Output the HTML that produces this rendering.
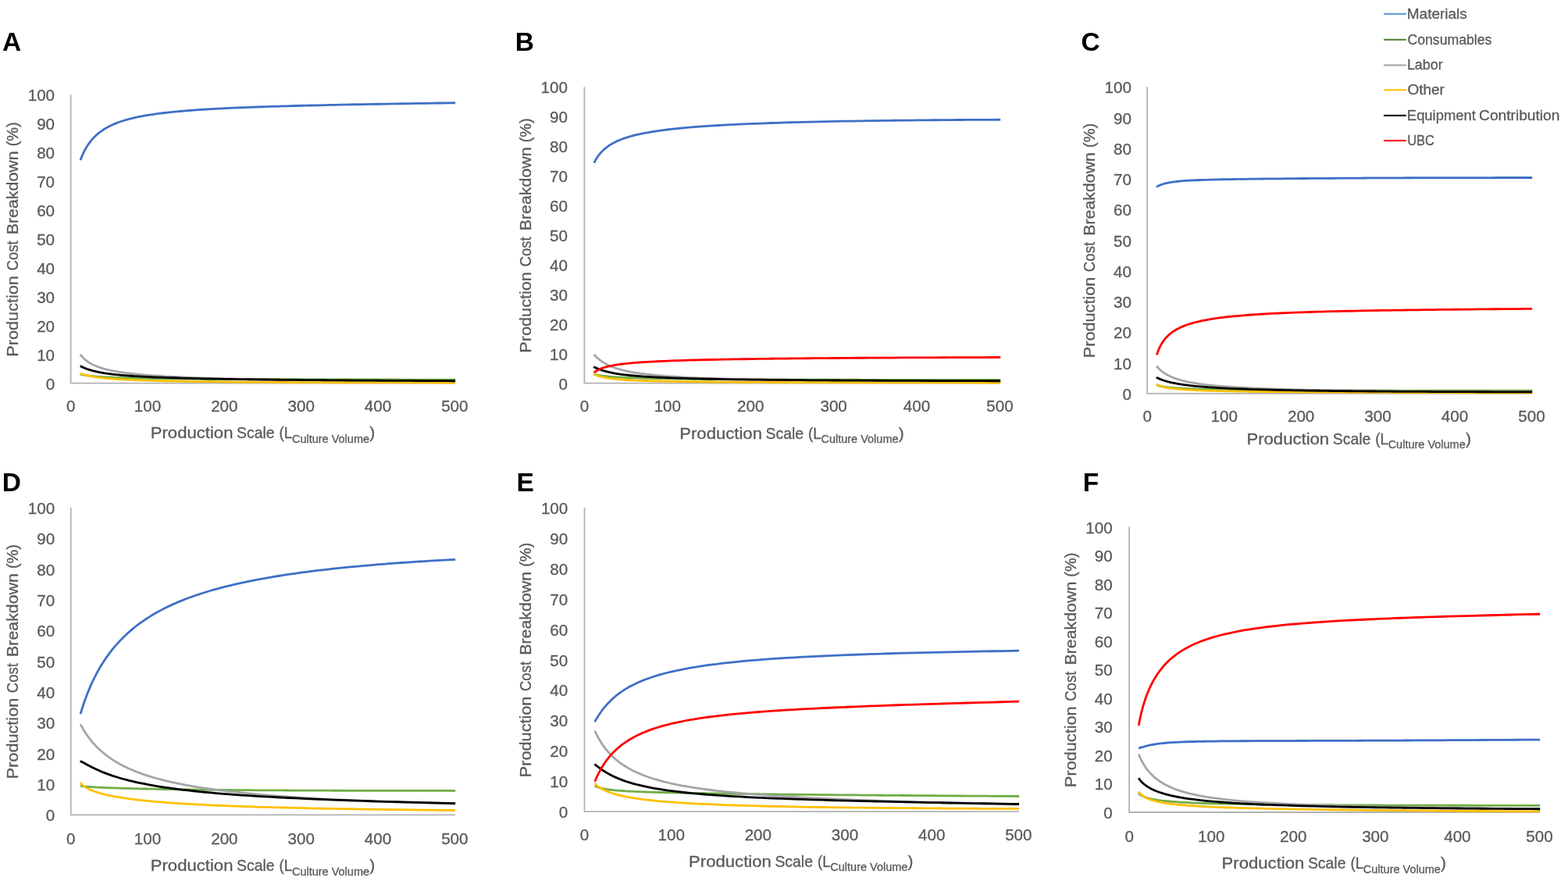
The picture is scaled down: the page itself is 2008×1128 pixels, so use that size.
<!DOCTYPE html>
<html lang="en"><head><meta charset="utf-8"><title>Production cost breakdown versus production scale</title>
<style>html,body{margin:0;padding:0;background:#fff}body{width:2008px;height:1128px;overflow:hidden}svg{display:block}text{font-family:"Liberation Sans",Arial,Helvetica,sans-serif}.t,.ax,.sub,.lg{stroke:#595959;stroke-width:.3px;paint-order:stroke}.t{fill:#595959;font-size:20.8px}.ax{fill:#595959;font-size:21px}.sub{fill:#595959;font-size:14.5px}.lg{fill:#595959;font-size:18px}.pl{fill:#000;font-size:33.5px;font-weight:bold}.c{fill:none;stroke-width:2.8;stroke-linejoin:round;stroke-linecap:butt}.a{fill:none;stroke:#b2b2b2;stroke-width:1.8;stroke-linejoin:round;stroke-linecap:butt}</style></head><body>
<svg width="2008" height="1128" viewBox="0 0 2008 1128">
<rect width="2008" height="1128" fill="#fff"/>
<g id="panel-A">
<text class="pl" x="2.88" y="65.2">A</text>
<text class="t" text-anchor="end" x="70.1" y="498.55" textLength="11.47" lengthAdjust="spacingAndGlyphs">0</text>
<text class="t" text-anchor="end" x="70.1" y="461.64" textLength="22.94" lengthAdjust="spacingAndGlyphs">10</text>
<text class="t" text-anchor="end" x="70.1" y="424.73" textLength="22.94" lengthAdjust="spacingAndGlyphs">20</text>
<text class="t" text-anchor="end" x="70.1" y="387.82" textLength="22.94" lengthAdjust="spacingAndGlyphs">30</text>
<text class="t" text-anchor="end" x="70.1" y="350.91" textLength="22.94" lengthAdjust="spacingAndGlyphs">40</text>
<text class="t" text-anchor="end" x="70.1" y="314" textLength="22.94" lengthAdjust="spacingAndGlyphs">50</text>
<text class="t" text-anchor="end" x="70.1" y="277.09" textLength="22.94" lengthAdjust="spacingAndGlyphs">60</text>
<text class="t" text-anchor="end" x="70.1" y="240.18" textLength="22.94" lengthAdjust="spacingAndGlyphs">70</text>
<text class="t" text-anchor="end" x="70.1" y="203.27" textLength="22.94" lengthAdjust="spacingAndGlyphs">80</text>
<text class="t" text-anchor="end" x="70.1" y="166.36" textLength="22.94" lengthAdjust="spacingAndGlyphs">90</text>
<text class="t" text-anchor="end" x="70.1" y="129.45" textLength="34.41" lengthAdjust="spacingAndGlyphs">100</text>
<text class="t" text-anchor="middle" x="90.65" y="526.5" textLength="11.47" lengthAdjust="spacingAndGlyphs">0</text>
<text class="t" text-anchor="middle" x="188.99" y="526.5" textLength="34.41" lengthAdjust="spacingAndGlyphs">100</text>
<text class="t" text-anchor="middle" x="287.33" y="526.5" textLength="34.41" lengthAdjust="spacingAndGlyphs">200</text>
<text class="t" text-anchor="middle" x="385.67" y="526.5" textLength="34.41" lengthAdjust="spacingAndGlyphs">300</text>
<text class="t" text-anchor="middle" x="484.01" y="526.5" textLength="34.41" lengthAdjust="spacingAndGlyphs">400</text>
<text class="t" text-anchor="middle" x="582.35" y="526.5" textLength="34.41" lengthAdjust="spacingAndGlyphs">500</text>
<text class="ax xtitle"><tspan x="192.76" y="561.25" textLength="105.71" lengthAdjust="spacingAndGlyphs">Production</tspan> <tspan x="303.08" y="561.25" textLength="48.56" lengthAdjust="spacingAndGlyphs">Scale</tspan> <tspan x="357.58" y="561.25" textLength="16.72" lengthAdjust="spacingAndGlyphs">(L</tspan><tspan class="sub" x="373.95" y="566.55" textLength="99.09" lengthAdjust="spacingAndGlyphs">Culture Volume</tspan><tspan x="473.18" y="561.25" textLength="6.96" lengthAdjust="spacingAndGlyphs">)</tspan></text>
<text class="ax ytitle" transform="translate(22.5 306.2) rotate(-90)"><tspan x="-150.45" y="0" textLength="103.55" lengthAdjust="spacingAndGlyphs">Production</tspan> <tspan x="-40.35" y="0" textLength="38.26" lengthAdjust="spacingAndGlyphs">Cost</tspan> <tspan x="5.97" y="0" textLength="106.81" lengthAdjust="spacingAndGlyphs">Breakdown</tspan> <tspan x="118.86" y="0" textLength="31.01" lengthAdjust="spacingAndGlyphs">(%)</tspan></text>
<path class="a" d="M90.6 121.2 V490.6 H582.9"/>
<polyline class="c" stroke="#3f6fc6" points="103.00,204.90 103.05,204.78 103.06,204.77 103.06,204.76 103.07,204.74 103.08,204.72 103.08,204.70 103.09,204.68 103.10,204.66 103.11,204.63 103.13,204.60 103.14,204.57 103.16,204.53 103.17,204.49 103.19,204.45 103.21,204.40 103.23,204.34 103.26,204.28 103.29,204.21 103.32,204.14 103.35,204.06 103.39,203.96 103.44,203.85 103.48,203.73 103.53,203.59 103.59,203.44 103.66,203.27 103.73,203.09 103.81,202.89 103.90,202.66 103.99,202.42 104.10,202.15 104.22,201.85 104.35,201.52 104.50,201.16 104.66,200.77 104.84,200.33 105.04,199.86 105.26,199.34 105.51,198.78 105.78,198.16 106.08,197.49 106.42,196.76 106.79,195.97 107.20,195.12 107.65,194.19 108.16,193.20 108.72,192.13 109.34,190.99 110.03,189.77 110.79,188.48 111.63,187.10 112.57,185.65 112.80,185.31 113.61,184.13 114.76,182.53 116.04,180.86 117.45,179.13 119.02,177.34 120.76,175.50 122.60,173.70 122.69,173.61 124.83,171.69 127.19,169.75 129.82,167.79 132.39,166.04 132.73,165.82 135.96,163.86 139.53,161.92 142.19,160.61 143.50,160.00 147.89,158.11 151.99,156.55 152.77,156.27 158.17,154.48 161.79,153.41 164.15,152.75 170.79,151.09 171.59,150.90 178.15,149.49 181.38,148.86 186.30,147.97 191.18,147.16 195.34,146.52 200.98,145.72 205.36,145.15 210.78,144.49 216.47,143.85 220.58,143.43 228.79,142.64 230.37,142.49 240.17,141.67 242.44,141.49 249.97,140.93 257.57,140.42 259.77,140.27 269.57,139.68 274.35,139.41 279.36,139.14 289.16,138.64 292.94,138.46 298.96,138.19 308.76,137.77 313.56,137.58 318.56,137.38 328.35,137.02 336.41,136.74 338.15,136.68 347.95,136.36 357.75,136.06 361.74,135.95 367.54,135.78 377.34,135.51 387.14,135.26 389.82,135.19 396.94,135.02 406.74,134.79 416.53,134.56 420.94,134.47 426.33,134.35 436.13,134.15 445.93,133.95 455.45,133.77 455.73,133.76 465.52,133.58 475.32,133.40 485.12,133.23 493.70,133.09 494.92,133.06 504.72,132.90 514.51,132.74 524.31,132.59 534.11,132.44 536.10,132.41 543.91,132.29 553.71,132.15 563.50,132.01 573.30,131.87 583.10,131.73"/>
<polyline class="c" stroke="#70AD47" points="103.00,479.18 103.05,479.19 103.06,479.19 103.06,479.19 103.07,479.19 103.08,479.19 103.08,479.20 103.09,479.20 103.10,479.20 103.11,479.20 103.13,479.21 103.14,479.21 103.16,479.21 103.17,479.22 103.19,479.22 103.21,479.23 103.23,479.23 103.26,479.24 103.29,479.25 103.32,479.25 103.35,479.26 103.39,479.27 103.44,479.28 103.48,479.29 103.53,479.31 103.59,479.32 103.66,479.33 103.73,479.35 103.81,479.37 103.90,479.39 103.99,479.41 104.10,479.44 104.22,479.46 104.35,479.49 104.50,479.53 104.66,479.56 104.84,479.60 105.04,479.64 105.26,479.69 105.51,479.74 105.78,479.80 106.08,479.86 106.42,479.92 106.79,479.99 107.20,480.07 107.65,480.15 108.16,480.24 108.72,480.33 109.34,480.43 110.03,480.54 110.79,480.65 111.63,480.77 112.57,480.90 112.80,480.93 113.61,481.03 114.76,481.17 116.04,481.32 117.45,481.47 119.02,481.63 120.76,481.79 122.60,481.95 122.69,481.96 124.83,482.13 127.19,482.30 129.82,482.48 132.39,482.64 132.73,482.66 135.96,482.84 139.53,483.02 142.19,483.14 143.50,483.20 147.89,483.38 151.99,483.53 152.77,483.55 158.17,483.73 161.79,483.84 164.15,483.90 170.79,484.07 171.59,484.09 178.15,484.23 181.38,484.30 186.30,484.39 191.18,484.48 195.34,484.54 200.98,484.63 205.36,484.69 210.78,484.76 216.47,484.83 220.58,484.88 228.79,484.97 230.37,484.98 240.17,485.08 242.44,485.10 249.97,485.16 257.57,485.22 259.77,485.23 269.57,485.30 274.35,485.33 279.36,485.36 289.16,485.42 292.94,485.44 298.96,485.47 308.76,485.52 313.56,485.54 318.56,485.56 328.35,485.60 336.41,485.64 338.15,485.64 347.95,485.68 357.75,485.71 361.74,485.72 367.54,485.74 377.34,485.77 387.14,485.80 389.82,485.80 396.94,485.82 406.74,485.84 416.53,485.87 420.94,485.88 426.33,485.89 436.13,485.91 445.93,485.93 455.45,485.94 455.73,485.94 465.52,485.96 475.32,485.98 485.12,485.99 493.70,486.00 494.92,486.00 504.72,486.02 514.51,486.03 524.31,486.04 534.11,486.05 536.10,486.05 543.91,486.06 553.71,486.07 563.50,486.08 573.30,486.09 583.10,486.10"/>
<polyline class="c" stroke="#A5A5A5" points="103.00,454.03 103.05,454.10 103.06,454.11 103.06,454.12 103.07,454.12 103.08,454.13 103.08,454.14 103.09,454.16 103.10,454.17 103.11,454.18 103.13,454.20 103.14,454.22 103.16,454.24 103.17,454.26 103.19,454.29 103.21,454.31 103.23,454.34 103.26,454.38 103.29,454.41 103.32,454.45 103.35,454.50 103.39,454.55 103.44,454.60 103.48,454.66 103.53,454.73 103.59,454.81 103.66,454.89 103.73,454.98 103.81,455.08 103.90,455.18 103.99,455.30 104.10,455.44 104.22,455.58 104.35,455.74 104.50,455.91 104.66,456.11 104.84,456.31 105.04,456.54 105.26,456.79 105.51,457.06 105.78,457.36 106.08,457.67 106.42,458.02 106.79,458.39 107.20,458.80 107.65,459.23 108.16,459.70 108.72,460.19 109.34,460.72 110.03,461.29 110.79,461.88 111.63,462.51 112.57,463.18 112.80,463.33 113.61,463.87 114.76,464.59 116.04,465.35 117.45,466.12 119.02,466.93 120.76,467.75 122.60,468.55 122.69,468.59 124.83,469.44 127.19,470.30 129.82,471.17 132.39,471.94 132.73,472.03 135.96,472.90 139.53,473.76 142.19,474.34 143.50,474.61 147.89,475.45 151.99,476.15 152.77,476.28 158.17,477.08 161.79,477.57 164.15,477.87 170.79,478.63 171.59,478.72 178.15,479.37 181.38,479.67 186.30,480.09 191.18,480.48 195.34,480.78 200.98,481.17 205.36,481.45 210.78,481.78 216.47,482.10 220.58,482.31 228.79,482.72 230.37,482.79 240.17,483.22 242.44,483.31 249.97,483.61 257.57,483.88 259.77,483.96 269.57,484.28 274.35,484.43 279.36,484.58 289.16,484.85 292.94,484.95 298.96,485.11 308.76,485.34 313.56,485.45 318.56,485.56 328.35,485.77 336.41,485.92 338.15,485.96 347.95,486.14 357.75,486.31 361.74,486.37 367.54,486.46 377.34,486.61 387.14,486.75 389.82,486.79 396.94,486.89 406.74,487.01 416.53,487.13 420.94,487.18 426.33,487.24 436.13,487.35 445.93,487.45 455.45,487.54 455.73,487.55 465.52,487.64 475.32,487.72 485.12,487.80 493.70,487.87 494.92,487.88 504.72,487.95 514.51,488.02 524.31,488.09 534.11,488.15 536.10,488.16 543.91,488.21 553.71,488.26 563.50,488.32 573.30,488.37 583.10,488.41"/>
<polyline class="c" stroke="#FFC000" points="103.00,478.17 103.05,478.19 103.06,478.19 103.06,478.19 103.07,478.20 103.08,478.20 103.08,478.20 103.09,478.21 103.10,478.21 103.11,478.21 103.13,478.22 103.14,478.23 103.16,478.23 103.17,478.24 103.19,478.25 103.21,478.25 103.23,478.26 103.26,478.27 103.29,478.28 103.32,478.30 103.35,478.31 103.39,478.33 103.44,478.34 103.48,478.36 103.53,478.38 103.59,478.40 103.66,478.43 103.73,478.46 103.81,478.49 103.90,478.52 103.99,478.56 104.10,478.60 104.22,478.64 104.35,478.69 104.50,478.74 104.66,478.80 104.84,478.86 105.04,478.93 105.26,479.01 105.51,479.09 105.78,479.19 106.08,479.28 106.42,479.39 106.79,479.51 107.20,479.63 107.65,479.77 108.16,479.91 108.72,480.07 109.34,480.23 110.03,480.41 110.79,480.60 111.63,480.80 112.57,481.01 112.80,481.06 113.61,481.24 114.76,481.47 116.04,481.72 117.45,481.97 119.02,482.24 120.76,482.51 122.60,482.78 122.69,482.80 124.83,483.09 127.19,483.39 129.82,483.69 132.39,483.96 132.73,484.00 135.96,484.31 139.53,484.62 142.19,484.84 143.50,484.94 147.89,485.25 151.99,485.51 152.77,485.56 158.17,485.87 161.79,486.06 164.15,486.17 170.79,486.47 171.59,486.51 178.15,486.77 181.38,486.89 186.30,487.05 191.18,487.21 195.34,487.33 200.98,487.49 205.36,487.60 210.78,487.73 216.47,487.86 220.58,487.94 228.79,488.11 230.37,488.13 240.17,488.30 242.44,488.34 249.97,488.46 257.57,488.56 259.77,488.59 269.57,488.72 274.35,488.77 279.36,488.83 289.16,488.93 292.94,488.97 298.96,489.03 308.76,489.11 313.56,489.15 318.56,489.19 328.35,489.26 336.41,489.32 338.15,489.33 347.95,489.39 357.75,489.44 361.74,489.46 367.54,489.49 377.34,489.54 387.14,489.59 389.82,489.60 396.94,489.63 406.74,489.66 416.53,489.70 420.94,489.71 426.33,489.73 436.13,489.76 445.93,489.79 455.45,489.81 455.73,489.81 465.52,489.83 475.32,489.86 485.12,489.88 493.70,489.89 494.92,489.89 504.72,489.91 514.51,489.92 524.31,489.94 534.11,489.95 536.10,489.95 543.91,489.96 553.71,489.97 563.50,489.98 573.30,489.98 583.10,489.99"/>
<polyline class="c" stroke="#000000" points="103.00,468.72 103.05,468.74 103.06,468.75 103.06,468.75 103.07,468.75 103.08,468.76 103.08,468.76 103.09,468.77 103.10,468.77 103.11,468.78 103.13,468.78 103.14,468.79 103.16,468.80 103.17,468.81 103.19,468.82 103.21,468.83 103.23,468.84 103.26,468.86 103.29,468.87 103.32,468.89 103.35,468.91 103.39,468.93 103.44,468.95 103.48,468.97 103.53,469.00 103.59,469.03 103.66,469.07 103.73,469.10 103.81,469.14 103.90,469.19 103.99,469.24 104.10,469.30 104.22,469.36 104.35,469.42 104.50,469.50 104.66,469.58 104.84,469.67 105.04,469.77 105.26,469.87 105.51,469.99 105.78,470.12 106.08,470.26 106.42,470.42 106.79,470.58 107.20,470.77 107.65,470.96 108.16,471.18 108.72,471.41 109.34,471.66 110.03,471.92 110.79,472.21 111.63,472.52 112.57,472.84 112.80,472.92 113.61,473.19 114.76,473.55 116.04,473.93 117.45,474.34 119.02,474.76 120.76,475.19 122.60,475.62 122.69,475.64 124.83,476.10 127.19,476.58 129.82,477.06 132.39,477.50 132.73,477.56 135.96,478.05 139.53,478.55 142.19,478.89 143.50,479.05 147.89,479.55 151.99,479.97 152.77,480.04 158.17,480.53 161.79,480.83 164.15,481.01 170.79,481.48 171.59,481.53 178.15,481.93 181.38,482.12 186.30,482.38 191.18,482.62 195.34,482.81 200.98,483.05 205.36,483.22 210.78,483.43 216.47,483.62 220.58,483.76 228.79,484.01 230.37,484.05 240.17,484.32 242.44,484.38 249.97,484.56 257.57,484.73 259.77,484.78 269.57,484.98 274.35,485.07 279.36,485.16 289.16,485.33 292.94,485.39 298.96,485.49 308.76,485.63 313.56,485.70 318.56,485.77 328.35,485.90 336.41,486.00 338.15,486.02 347.95,486.13 357.75,486.24 361.74,486.28 367.54,486.34 377.34,486.43 387.14,486.52 389.82,486.55 396.94,486.61 406.74,486.69 416.53,486.77 420.94,486.81 426.33,486.85 436.13,486.92 445.93,486.99 455.45,487.06 455.73,487.06 465.52,487.12 475.32,487.19 485.12,487.25 493.70,487.30 494.92,487.30 504.72,487.36 514.51,487.41 524.31,487.47 534.11,487.52 536.10,487.53 543.91,487.57 553.71,487.62 563.50,487.66 573.30,487.71 583.10,487.75"/>
</g>
<g id="panel-B">
<text class="pl" x="659.85" y="65.1">B</text>
<text class="t" text-anchor="end" x="727" y="498.55" textLength="11.47" lengthAdjust="spacingAndGlyphs">0</text>
<text class="t" text-anchor="end" x="727" y="460.64" textLength="22.94" lengthAdjust="spacingAndGlyphs">10</text>
<text class="t" text-anchor="end" x="727" y="422.73" textLength="22.94" lengthAdjust="spacingAndGlyphs">20</text>
<text class="t" text-anchor="end" x="727" y="384.82" textLength="22.94" lengthAdjust="spacingAndGlyphs">30</text>
<text class="t" text-anchor="end" x="727" y="346.91" textLength="22.94" lengthAdjust="spacingAndGlyphs">40</text>
<text class="t" text-anchor="end" x="727" y="309" textLength="22.94" lengthAdjust="spacingAndGlyphs">50</text>
<text class="t" text-anchor="end" x="727" y="271.09" textLength="22.94" lengthAdjust="spacingAndGlyphs">60</text>
<text class="t" text-anchor="end" x="727" y="233.18" textLength="22.94" lengthAdjust="spacingAndGlyphs">70</text>
<text class="t" text-anchor="end" x="727" y="195.27" textLength="22.94" lengthAdjust="spacingAndGlyphs">80</text>
<text class="t" text-anchor="end" x="727" y="157.36" textLength="22.94" lengthAdjust="spacingAndGlyphs">90</text>
<text class="t" text-anchor="end" x="727" y="119.45" textLength="34.41" lengthAdjust="spacingAndGlyphs">100</text>
<text class="t" text-anchor="middle" x="748.45" y="526.5" textLength="11.47" lengthAdjust="spacingAndGlyphs">0</text>
<text class="t" text-anchor="middle" x="854.85" y="526.5" textLength="34.41" lengthAdjust="spacingAndGlyphs">100</text>
<text class="t" text-anchor="middle" x="961.25" y="526.5" textLength="34.41" lengthAdjust="spacingAndGlyphs">200</text>
<text class="t" text-anchor="middle" x="1067.65" y="526.5" textLength="34.41" lengthAdjust="spacingAndGlyphs">300</text>
<text class="t" text-anchor="middle" x="1174.05" y="526.5" textLength="34.41" lengthAdjust="spacingAndGlyphs">400</text>
<text class="t" text-anchor="middle" x="1280.45" y="526.5" textLength="34.41" lengthAdjust="spacingAndGlyphs">500</text>
<text class="ax xtitle"><tspan x="870.26" y="561.6" textLength="105.71" lengthAdjust="spacingAndGlyphs">Production</tspan> <tspan x="980.58" y="561.6" textLength="48.56" lengthAdjust="spacingAndGlyphs">Scale</tspan> <tspan x="1035.08" y="561.6" textLength="16.72" lengthAdjust="spacingAndGlyphs">(L</tspan><tspan class="sub" x="1051.45" y="566.9" textLength="99.09" lengthAdjust="spacingAndGlyphs">Culture Volume</tspan><tspan x="1150.68" y="561.6" textLength="6.96" lengthAdjust="spacingAndGlyphs">)</tspan></text>
<text class="ax ytitle" transform="translate(680 301.2) rotate(-90)"><tspan x="-150.45" y="0" textLength="103.55" lengthAdjust="spacingAndGlyphs">Production</tspan> <tspan x="-40.35" y="0" textLength="38.26" lengthAdjust="spacingAndGlyphs">Cost</tspan> <tspan x="5.97" y="0" textLength="106.81" lengthAdjust="spacingAndGlyphs">Breakdown</tspan> <tspan x="118.86" y="0" textLength="31.01" lengthAdjust="spacingAndGlyphs">(%)</tspan></text>
<path class="a" d="M748.4 111.2 V490.6 H1281"/>
<polyline class="c" stroke="#3f6fc6" points="760.70,208.26 760.75,208.18 760.76,208.17 760.76,208.16 760.77,208.15 760.78,208.14 760.78,208.13 760.79,208.12 760.80,208.10 760.81,208.08 760.83,208.06 760.84,208.04 760.86,208.02 760.87,207.99 760.89,207.97 760.91,207.93 760.94,207.90 760.96,207.86 760.99,207.81 761.02,207.77 761.06,207.71 761.10,207.65 761.14,207.59 761.19,207.51 761.25,207.43 761.31,207.34 761.37,207.24 761.45,207.10 761.53,206.95 761.62,206.78 761.72,206.59 761.83,206.38 761.95,206.16 762.09,205.90 762.24,205.63 762.41,205.33 762.60,205.00 762.81,204.64 763.04,204.25 763.30,203.82 763.58,203.35 763.90,202.85 764.25,202.30 764.63,201.71 765.07,201.07 765.54,200.38 766.07,199.64 766.66,198.85 767.32,198.00 768.04,197.11 768.84,196.15 769.74,195.15 770.73,194.09 771.32,193.48 771.82,192.98 773.04,191.83 774.39,190.62 775.89,189.38 777.56,188.09 779.40,186.78 781.45,185.43 781.94,185.12 783.73,184.06 786.25,182.67 789.05,181.27 792.15,179.86 792.57,179.68 795.60,178.45 799.42,177.05 803.19,175.81 803.66,175.66 808.37,174.28 813.59,172.92 813.81,172.87 819.38,171.59 824.43,170.55 825.81,170.29 832.94,169.01 835.06,168.66 840.85,167.77 845.68,167.08 849.63,166.56 856.30,165.74 859.37,165.39 866.92,164.58 870.18,164.25 877.55,163.57 882.17,163.16 888.17,162.67 895.47,162.11 898.79,161.87 909.41,161.15 910.23,161.10 920.04,160.51 926.61,160.14 930.66,159.92 941.28,159.38 944.79,159.22 951.90,158.89 962.53,158.44 964.95,158.34 973.15,158.03 983.77,157.64 987.32,157.52 994.39,157.29 1005.02,156.96 1012.14,156.75 1015.64,156.65 1026.26,156.37 1036.88,156.11 1039.69,156.04 1047.51,155.86 1058.13,155.63 1068.75,155.42 1070.24,155.39 1079.37,155.22 1090.00,155.03 1100.62,154.86 1104.15,154.80 1111.24,154.70 1121.86,154.55 1132.49,154.41 1141.77,154.29 1143.11,154.27 1153.73,154.15 1164.35,154.04 1174.98,153.93 1183.51,153.86 1185.60,153.84 1196.22,153.75 1206.84,153.66 1217.47,153.59 1228.09,153.52 1229.82,153.51 1238.71,153.45 1249.33,153.40 1259.96,153.34 1270.58,153.29 1281.20,153.25"/>
<polyline class="c" stroke="#70AD47" points="760.70,479.12 760.75,479.13 760.76,479.13 760.76,479.13 760.77,479.13 760.78,479.14 760.78,479.14 760.79,479.14 760.80,479.14 760.81,479.15 760.83,479.15 760.84,479.15 760.86,479.16 760.87,479.16 760.89,479.17 760.91,479.18 760.94,479.18 760.96,479.19 760.99,479.20 761.02,479.21 761.06,479.22 761.10,479.23 761.14,479.24 761.19,479.25 761.25,479.27 761.31,479.28 761.37,479.30 761.45,479.32 761.53,479.34 761.62,479.36 761.72,479.39 761.83,479.42 761.95,479.45 762.09,479.49 762.24,479.52 762.41,479.57 762.60,479.61 762.81,479.66 763.04,479.71 763.30,479.77 763.58,479.84 763.90,479.91 764.25,479.98 764.63,480.06 765.07,480.15 765.54,480.24 766.07,480.34 766.66,480.45 767.32,480.57 768.04,480.69 768.84,480.81 769.74,480.95 770.73,481.09 771.32,481.17 771.82,481.24 773.04,481.40 774.39,481.56 775.89,481.72 777.56,481.90 779.40,482.07 781.45,482.25 781.94,482.30 783.73,482.44 786.25,482.62 789.05,482.81 792.15,483.00 792.57,483.03 795.60,483.19 799.42,483.38 803.19,483.55 803.66,483.57 808.37,483.76 813.59,483.94 813.81,483.95 819.38,484.12 824.43,484.26 825.81,484.30 832.94,484.47 835.06,484.52 840.85,484.63 845.68,484.73 849.63,484.80 856.30,484.90 859.37,484.95 866.92,485.06 870.18,485.10 877.55,485.19 882.17,485.24 888.17,485.31 895.47,485.38 898.79,485.41 909.41,485.50 910.23,485.51 920.04,485.58 926.61,485.63 930.66,485.66 941.28,485.72 944.79,485.74 951.90,485.78 962.53,485.84 964.95,485.85 973.15,485.89 983.77,485.94 987.32,485.95 994.39,485.98 1005.02,486.02 1012.14,486.04 1015.64,486.06 1026.26,486.09 1036.88,486.12 1039.69,486.13 1047.51,486.15 1058.13,486.18 1068.75,486.20 1070.24,486.21 1079.37,486.23 1090.00,486.25 1100.62,486.27 1104.15,486.28 1111.24,486.29 1121.86,486.31 1132.49,486.33 1141.77,486.35 1143.11,486.35 1153.73,486.36 1164.35,486.38 1174.98,486.39 1183.51,486.40 1185.60,486.41 1196.22,486.42 1206.84,486.43 1217.47,486.44 1228.09,486.45 1229.82,486.46 1238.71,486.46 1249.33,486.47 1259.96,486.48 1270.58,486.49 1281.20,486.50"/>
<polyline class="c" stroke="#A5A5A5" points="760.70,453.86 760.75,453.92 760.76,453.93 760.76,453.93 760.77,453.94 760.78,453.95 760.78,453.96 760.79,453.97 760.80,453.98 760.81,453.99 760.83,454.01 760.84,454.02 760.86,454.04 760.87,454.06 760.89,454.08 760.91,454.10 760.94,454.13 760.96,454.16 760.99,454.19 761.02,454.23 761.06,454.27 761.10,454.31 761.14,454.36 761.19,454.41 761.25,454.47 761.31,454.54 761.37,454.61 761.45,454.69 761.53,454.78 761.62,454.88 761.72,454.99 761.83,455.11 761.95,455.24 762.09,455.39 762.24,455.55 762.41,455.73 762.60,455.92 762.81,456.14 763.04,456.37 763.30,456.63 763.58,456.91 763.90,457.22 764.25,457.55 764.63,457.92 765.07,458.31 765.54,458.74 766.07,459.21 766.66,459.71 767.32,460.25 768.04,460.83 768.84,461.45 769.74,462.10 770.73,462.80 771.32,463.20 771.82,463.53 773.04,464.31 774.39,465.12 775.89,465.96 777.56,466.83 779.40,467.73 781.45,468.66 781.94,468.87 783.73,469.60 786.25,470.55 789.05,471.52 792.15,472.49 792.57,472.61 795.60,473.45 799.42,474.41 803.19,475.26 803.66,475.36 808.37,476.29 813.59,477.20 813.81,477.23 819.38,478.08 824.43,478.76 825.81,478.93 832.94,479.75 835.06,479.98 840.85,480.54 845.68,480.96 849.63,481.29 856.30,481.79 859.37,482.00 866.92,482.48 870.18,482.67 877.55,483.07 882.17,483.30 888.17,483.58 895.47,483.89 898.79,484.03 909.41,484.42 910.23,484.45 920.04,484.77 926.61,484.96 930.66,485.08 941.28,485.35 944.79,485.44 951.90,485.60 962.53,485.83 964.95,485.88 973.15,486.04 983.77,486.23 987.32,486.29 994.39,486.40 1005.02,486.56 1012.14,486.66 1015.64,486.71 1026.26,486.85 1036.88,486.98 1039.69,487.01 1047.51,487.09 1058.13,487.21 1068.75,487.31 1070.24,487.32 1079.37,487.41 1090.00,487.50 1100.62,487.58 1104.15,487.61 1111.24,487.66 1121.86,487.74 1132.49,487.81 1141.77,487.87 1143.11,487.88 1153.73,487.95 1164.35,488.01 1174.98,488.06 1183.51,488.11 1185.60,488.12 1196.22,488.17 1206.84,488.22 1217.47,488.27 1228.09,488.32 1229.82,488.33 1238.71,488.36 1249.33,488.40 1259.96,488.44 1270.58,488.48 1281.20,488.52"/>
<polyline class="c" stroke="#FFC000" points="760.70,479.06 760.75,479.08 760.76,479.09 760.76,479.09 760.77,479.09 760.78,479.10 760.78,479.10 760.79,479.11 760.80,479.11 760.81,479.12 760.83,479.13 760.84,479.13 760.86,479.14 760.87,479.15 760.89,479.16 760.91,479.17 760.94,479.19 760.96,479.20 760.99,479.22 761.02,479.23 761.06,479.25 761.10,479.27 761.14,479.30 761.19,479.32 761.25,479.35 761.31,479.38 761.37,479.42 761.45,479.45 761.53,479.49 761.62,479.54 761.72,479.59 761.83,479.65 761.95,479.71 762.09,479.77 762.24,479.84 762.41,479.92 762.60,480.01 762.81,480.10 763.04,480.20 763.30,480.31 763.58,480.43 763.90,480.56 764.25,480.70 764.63,480.85 765.07,481.01 765.54,481.18 766.07,481.36 766.66,481.55 767.32,481.75 768.04,481.96 768.84,482.19 769.74,482.42 770.73,482.66 771.32,482.80 771.82,482.91 773.04,483.17 774.39,483.44 775.89,483.71 777.56,483.99 779.40,484.27 781.45,484.56 781.94,484.62 783.73,484.84 786.25,485.13 789.05,485.41 792.15,485.70 792.57,485.73 795.60,485.97 799.42,486.25 803.19,486.49 803.66,486.51 808.37,486.77 813.59,487.03 813.81,487.04 819.38,487.27 824.43,487.45 825.81,487.50 832.94,487.73 835.06,487.79 840.85,487.94 845.68,488.05 849.63,488.14 856.30,488.27 859.37,488.33 866.92,488.46 870.18,488.51 877.55,488.62 882.17,488.68 888.17,488.75 895.47,488.84 898.79,488.87 909.41,488.98 910.23,488.98 920.04,489.07 926.61,489.12 930.66,489.15 941.28,489.22 944.79,489.24 951.90,489.29 962.53,489.35 964.95,489.36 973.15,489.40 983.77,489.45 987.32,489.47 994.39,489.49 1005.02,489.54 1012.14,489.56 1015.64,489.57 1026.26,489.61 1036.88,489.64 1039.69,489.65 1047.51,489.67 1058.13,489.70 1068.75,489.72 1070.24,489.73 1079.37,489.75 1090.00,489.77 1100.62,489.79 1104.15,489.80 1111.24,489.81 1121.86,489.83 1132.49,489.84 1141.77,489.86 1143.11,489.86 1153.73,489.88 1164.35,489.89 1174.98,489.90 1183.51,489.91 1185.60,489.92 1196.22,489.93 1206.84,489.94 1217.47,489.95 1228.09,489.96 1229.82,489.96 1238.71,489.97 1249.33,489.98 1259.96,489.99 1270.58,489.99 1281.20,490.00"/>
<polyline class="c" stroke="#000000" points="760.70,469.80 760.75,469.83 760.76,469.83 760.76,469.84 760.77,469.84 760.78,469.84 760.78,469.85 760.79,469.85 760.80,469.86 760.81,469.87 760.83,469.87 760.84,469.88 760.86,469.89 760.87,469.90 760.89,469.91 760.91,469.92 760.94,469.93 760.96,469.94 760.99,469.96 761.02,469.98 761.06,470.00 761.10,470.02 761.14,470.04 761.19,470.07 761.25,470.09 761.31,470.12 761.37,470.16 761.45,470.20 761.53,470.24 761.62,470.29 761.72,470.34 761.83,470.39 761.95,470.46 762.09,470.53 762.24,470.60 762.41,470.69 762.60,470.78 762.81,470.88 763.04,470.99 763.30,471.11 763.58,471.24 763.90,471.39 764.25,471.55 764.63,471.72 765.07,471.91 765.54,472.11 766.07,472.33 766.66,472.57 767.32,472.82 768.04,473.10 768.84,473.39 769.74,473.70 770.73,474.04 771.32,474.23 771.82,474.39 773.04,474.76 774.39,475.15 775.89,475.56 777.56,475.98 779.40,476.42 781.45,476.87 781.94,476.98 783.73,477.34 786.25,477.82 789.05,478.30 792.15,478.79 792.57,478.85 795.60,479.28 799.42,479.77 803.19,480.21 803.66,480.26 808.37,480.75 813.59,481.22 813.81,481.24 819.38,481.69 824.43,482.06 825.81,482.15 832.94,482.60 835.06,482.72 840.85,483.03 845.68,483.27 849.63,483.45 856.30,483.73 859.37,483.85 866.92,484.12 870.18,484.23 877.55,484.46 882.17,484.59 888.17,484.75 895.47,484.93 898.79,485.01 909.41,485.24 910.23,485.26 920.04,485.45 926.61,485.56 930.66,485.63 941.28,485.80 944.79,485.85 951.90,485.95 962.53,486.09 964.95,486.12 973.15,486.21 983.77,486.33 987.32,486.37 994.39,486.44 1005.02,486.53 1012.14,486.60 1015.64,486.63 1026.26,486.71 1036.88,486.79 1039.69,486.81 1047.51,486.86 1058.13,486.93 1068.75,487.00 1070.24,487.00 1079.37,487.06 1090.00,487.11 1100.62,487.17 1104.15,487.18 1111.24,487.22 1121.86,487.26 1132.49,487.31 1141.77,487.35 1143.11,487.35 1153.73,487.39 1164.35,487.43 1174.98,487.47 1183.51,487.50 1185.60,487.50 1196.22,487.54 1206.84,487.57 1217.47,487.60 1228.09,487.63 1229.82,487.63 1238.71,487.65 1249.33,487.68 1259.96,487.71 1270.58,487.73 1281.20,487.75"/>
<polyline class="c" stroke="#FF0000" points="760.70,477.17 760.75,477.13 760.76,477.12 760.76,477.12 760.77,477.11 760.78,477.10 760.78,477.10 760.79,477.09 760.80,477.08 760.81,477.07 760.83,477.06 760.84,477.05 760.86,477.03 760.87,477.02 760.89,477.00 760.91,476.98 760.94,476.96 760.96,476.94 760.99,476.92 761.02,476.89 761.06,476.86 761.10,476.83 761.14,476.79 761.19,476.75 761.25,476.70 761.31,476.65 761.37,476.60 761.45,476.54 761.53,476.47 761.62,476.40 761.72,476.32 761.83,476.23 761.95,476.14 762.09,476.03 762.24,475.92 762.41,475.80 762.60,475.66 762.81,475.52 763.04,475.36 763.30,475.18 763.58,475.00 763.90,474.80 764.25,474.58 764.63,474.35 765.07,474.11 765.54,473.84 766.07,473.56 766.66,473.27 767.32,472.96 768.04,472.63 768.84,472.28 769.74,471.92 770.73,471.55 771.32,471.33 771.82,471.16 773.04,470.75 774.39,470.34 775.89,469.91 777.56,469.47 779.40,469.03 781.45,468.58 781.94,468.47 783.73,468.12 786.25,467.66 789.05,467.19 792.15,466.73 792.57,466.67 795.60,466.26 799.42,465.80 803.19,465.39 803.66,465.34 808.37,464.89 813.59,464.44 813.81,464.42 819.38,464.00 824.43,463.65 825.81,463.57 832.94,463.14 835.06,463.03 840.85,462.73 845.68,462.50 849.63,462.32 856.30,462.05 859.37,461.93 866.92,461.66 870.18,461.55 877.55,461.32 882.17,461.18 888.17,461.02 895.47,460.83 898.79,460.75 909.41,460.50 910.23,460.48 920.04,460.28 926.61,460.15 930.66,460.08 941.28,459.90 944.79,459.84 951.90,459.73 962.53,459.57 964.95,459.54 973.15,459.43 983.77,459.29 987.32,459.25 994.39,459.17 1005.02,459.05 1012.14,458.98 1015.64,458.94 1026.26,458.84 1036.88,458.74 1039.69,458.72 1047.51,458.65 1058.13,458.57 1068.75,458.49 1070.24,458.48 1079.37,458.41 1090.00,458.34 1100.62,458.27 1104.15,458.25 1111.24,458.20 1121.86,458.14 1132.49,458.08 1141.77,458.03 1143.11,458.03 1153.73,457.97 1164.35,457.92 1174.98,457.87 1183.51,457.84 1185.60,457.83 1196.22,457.78 1206.84,457.74 1217.47,457.70 1228.09,457.66 1229.82,457.66 1238.71,457.63 1249.33,457.59 1259.96,457.56 1270.58,457.52 1281.20,457.49"/>
</g>
<g id="panel-C">
<text class="pl" x="1384.53" y="65.1">C</text>
<text class="t" text-anchor="end" x="1449" y="511.75" textLength="11.47" lengthAdjust="spacingAndGlyphs">0</text>
<text class="t" text-anchor="end" x="1449" y="472.52" textLength="22.94" lengthAdjust="spacingAndGlyphs">10</text>
<text class="t" text-anchor="end" x="1449" y="433.29" textLength="22.94" lengthAdjust="spacingAndGlyphs">20</text>
<text class="t" text-anchor="end" x="1449" y="394.06" textLength="22.94" lengthAdjust="spacingAndGlyphs">30</text>
<text class="t" text-anchor="end" x="1449" y="354.83" textLength="22.94" lengthAdjust="spacingAndGlyphs">40</text>
<text class="t" text-anchor="end" x="1449" y="315.6" textLength="22.94" lengthAdjust="spacingAndGlyphs">50</text>
<text class="t" text-anchor="end" x="1449" y="276.37" textLength="22.94" lengthAdjust="spacingAndGlyphs">60</text>
<text class="t" text-anchor="end" x="1449" y="237.14" textLength="22.94" lengthAdjust="spacingAndGlyphs">70</text>
<text class="t" text-anchor="end" x="1449" y="197.91" textLength="22.94" lengthAdjust="spacingAndGlyphs">80</text>
<text class="t" text-anchor="end" x="1449" y="158.68" textLength="22.94" lengthAdjust="spacingAndGlyphs">90</text>
<text class="t" text-anchor="end" x="1449" y="119.45" textLength="34.41" lengthAdjust="spacingAndGlyphs">100</text>
<text class="t" text-anchor="middle" x="1469.25" y="539.75" textLength="11.47" lengthAdjust="spacingAndGlyphs">0</text>
<text class="t" text-anchor="middle" x="1567.69" y="539.75" textLength="34.41" lengthAdjust="spacingAndGlyphs">100</text>
<text class="t" text-anchor="middle" x="1666.13" y="539.75" textLength="34.41" lengthAdjust="spacingAndGlyphs">200</text>
<text class="t" text-anchor="middle" x="1764.57" y="539.75" textLength="34.41" lengthAdjust="spacingAndGlyphs">300</text>
<text class="t" text-anchor="middle" x="1863.01" y="539.75" textLength="34.41" lengthAdjust="spacingAndGlyphs">400</text>
<text class="t" text-anchor="middle" x="1961.45" y="539.75" textLength="34.41" lengthAdjust="spacingAndGlyphs">500</text>
<text class="ax xtitle"><tspan x="1596.46" y="568.75" textLength="105.71" lengthAdjust="spacingAndGlyphs">Production</tspan> <tspan x="1706.78" y="568.75" textLength="48.56" lengthAdjust="spacingAndGlyphs">Scale</tspan> <tspan x="1761.28" y="568.75" textLength="16.72" lengthAdjust="spacingAndGlyphs">(L</tspan><tspan class="sub" x="1777.65" y="574.05" textLength="99.09" lengthAdjust="spacingAndGlyphs">Culture Volume</tspan><tspan x="1876.88" y="568.75" textLength="6.96" lengthAdjust="spacingAndGlyphs">)</tspan></text>
<text class="ax ytitle" transform="translate(1402 307.8) rotate(-90)"><tspan x="-150.45" y="0" textLength="103.55" lengthAdjust="spacingAndGlyphs">Production</tspan> <tspan x="-40.35" y="0" textLength="38.26" lengthAdjust="spacingAndGlyphs">Cost</tspan> <tspan x="5.97" y="0" textLength="106.81" lengthAdjust="spacingAndGlyphs">Breakdown</tspan> <tspan x="118.86" y="0" textLength="31.01" lengthAdjust="spacingAndGlyphs">(%)</tspan></text>
<path class="a" d="M1469.2 111.2 V503.8 H1962"/>
<polyline class="c" stroke="#3f6fc6" points="1481.40,238.59 1481.45,238.61 1481.46,238.62 1481.46,238.62 1481.47,238.62 1481.48,238.62 1481.48,238.63 1481.49,238.63 1481.50,238.64 1481.51,238.64 1481.53,238.65 1481.54,238.65 1481.56,238.66 1481.57,238.67 1481.59,238.68 1481.61,238.68 1481.63,238.69 1481.66,238.70 1481.69,238.72 1481.72,238.73 1481.75,238.74 1481.79,238.72 1481.84,238.70 1481.88,238.68 1481.93,238.65 1481.99,238.63 1482.06,238.60 1482.13,238.56 1482.21,238.52 1482.30,238.48 1482.39,238.44 1482.50,238.39 1482.62,238.33 1482.75,238.27 1482.90,238.20 1483.06,238.13 1483.24,238.05 1483.44,237.96 1483.66,237.86 1483.91,237.75 1484.18,237.63 1484.48,237.50 1484.82,237.36 1485.19,237.21 1485.60,237.05 1486.06,236.87 1486.56,236.68 1487.12,236.47 1487.74,236.25 1488.43,236.02 1489.20,235.77 1490.04,235.51 1490.98,235.24 1491.21,235.18 1492.02,234.96 1493.17,234.67 1494.45,234.37 1495.87,234.07 1497.44,233.77 1499.18,233.46 1501.02,233.16 1501.11,233.15 1503.25,232.85 1505.62,232.55 1508.25,232.26 1510.84,232.00 1511.16,231.97 1514.39,231.70 1517.97,231.44 1520.65,231.27 1521.94,231.19 1526.34,230.95 1530.46,230.76 1531.22,230.73 1536.63,230.52 1540.27,230.39 1542.62,230.32 1549.27,230.12 1550.09,230.10 1556.63,229.94 1559.90,229.87 1564.80,229.77 1569.71,229.67 1573.85,229.60 1579.52,229.51 1583.89,229.44 1589.33,229.36 1595.01,229.28 1599.15,229.22 1607.34,229.12 1608.96,229.10 1618.77,228.98 1621.01,228.96 1628.58,228.88 1636.17,228.80 1638.40,228.78 1648.21,228.69 1652.97,228.64 1658.02,228.60 1667.83,228.52 1671.59,228.49 1677.64,228.44 1687.46,228.36 1692.23,228.33 1697.27,228.29 1707.08,228.23 1715.12,228.18 1716.89,228.17 1726.71,228.11 1736.52,228.05 1740.49,228.03 1746.33,228.00 1756.14,227.95 1765.96,227.90 1768.61,227.89 1775.77,227.86 1785.58,227.82 1795.39,227.78 1799.79,227.77 1805.20,227.75 1815.02,227.72 1824.83,227.69 1834.34,227.66 1834.64,227.66 1844.45,227.64 1854.27,227.61 1864.08,227.59 1872.65,227.58 1873.89,227.57 1883.70,227.56 1893.51,227.55 1903.33,227.53 1913.14,227.53 1915.12,227.52 1922.95,227.52 1932.76,227.51 1942.58,227.51 1952.39,227.51 1962.20,227.51"/>
<polyline class="c" stroke="#70AD47" points="1481.40,493.10 1481.45,493.12 1481.46,493.12 1481.46,493.12 1481.47,493.12 1481.48,493.13 1481.48,493.13 1481.49,493.13 1481.50,493.14 1481.51,493.14 1481.53,493.14 1481.54,493.15 1481.56,493.15 1481.57,493.16 1481.59,493.17 1481.61,493.17 1481.63,493.18 1481.66,493.19 1481.69,493.20 1481.72,493.21 1481.75,493.22 1481.79,493.23 1481.84,493.25 1481.88,493.26 1481.93,493.28 1481.99,493.30 1482.06,493.32 1482.13,493.34 1482.21,493.37 1482.30,493.39 1482.39,493.42 1482.50,493.46 1482.62,493.49 1482.75,493.53 1482.90,493.58 1483.06,493.62 1483.24,493.67 1483.44,493.73 1483.66,493.79 1483.91,493.86 1484.18,493.93 1484.48,494.00 1484.82,494.09 1485.19,494.18 1485.60,494.27 1486.06,494.37 1486.56,494.48 1487.12,494.59 1487.74,494.71 1488.43,494.84 1489.20,494.97 1490.04,495.11 1490.98,495.26 1491.21,495.30 1492.02,495.41 1493.17,495.57 1494.45,495.73 1495.87,495.90 1497.44,496.07 1499.18,496.24 1501.02,496.41 1501.11,496.42 1503.25,496.59 1505.62,496.77 1508.25,496.95 1510.84,497.11 1511.16,497.13 1514.39,497.31 1517.97,497.48 1520.65,497.60 1521.94,497.66 1526.34,497.83 1530.46,497.97 1531.22,498.00 1536.63,498.16 1540.27,498.26 1542.62,498.32 1549.27,498.47 1550.09,498.49 1556.63,498.62 1559.90,498.68 1564.80,498.77 1569.71,498.84 1573.85,498.90 1579.52,498.98 1583.89,499.03 1589.33,499.10 1595.01,499.16 1599.15,499.20 1607.34,499.28 1608.96,499.29 1618.77,499.37 1621.01,499.39 1628.58,499.45 1636.17,499.50 1638.40,499.51 1648.21,499.57 1652.97,499.60 1658.02,499.62 1667.83,499.67 1671.59,499.69 1677.64,499.72 1687.46,499.76 1692.23,499.78 1697.27,499.79 1707.08,499.83 1715.12,499.86 1716.89,499.86 1726.71,499.89 1736.52,499.92 1740.49,499.93 1746.33,499.95 1756.14,499.97 1765.96,499.99 1768.61,500.00 1775.77,500.01 1785.58,500.03 1795.39,500.05 1799.79,500.06 1805.20,500.07 1815.02,500.09 1824.83,500.10 1834.34,500.12 1834.64,500.12 1844.45,500.13 1854.27,500.14 1864.08,500.16 1872.65,500.17 1873.89,500.17 1883.70,500.18 1893.51,500.19 1903.33,500.20 1913.14,500.21 1915.12,500.21 1922.95,500.22 1932.76,500.23 1942.58,500.24 1952.39,500.24 1962.20,500.25"/>
<polyline class="c" stroke="#A5A5A5" points="1481.40,468.96 1481.45,469.03 1481.46,469.03 1481.46,469.04 1481.47,469.05 1481.48,469.06 1481.48,469.07 1481.49,469.08 1481.50,469.10 1481.51,469.11 1481.53,469.13 1481.54,469.15 1481.56,469.17 1481.57,469.19 1481.59,469.22 1481.61,469.24 1481.63,469.27 1481.66,469.31 1481.69,469.35 1481.72,469.39 1481.75,469.43 1481.79,469.48 1481.84,469.54 1481.88,469.60 1481.93,469.66 1481.99,469.73 1482.06,469.81 1482.13,469.89 1482.21,469.98 1482.30,470.08 1482.39,470.19 1482.50,470.31 1482.62,470.44 1482.75,470.59 1482.90,470.75 1483.06,470.93 1483.24,471.12 1483.44,471.33 1483.66,471.56 1483.91,471.81 1484.18,472.09 1484.48,472.39 1484.82,472.71 1485.19,473.06 1485.60,473.44 1486.06,473.85 1486.56,474.30 1487.12,474.77 1487.74,475.28 1488.43,475.82 1489.20,476.39 1490.04,477.00 1490.98,477.65 1491.21,477.80 1492.02,478.32 1493.17,479.03 1494.45,479.77 1495.87,480.54 1497.44,481.33 1499.18,482.14 1501.02,482.94 1501.11,482.98 1503.25,483.83 1505.62,484.69 1508.25,485.56 1510.84,486.35 1511.16,486.44 1514.39,487.31 1517.97,488.18 1520.65,488.78 1521.94,489.04 1526.34,489.89 1530.46,490.60 1531.22,490.73 1536.63,491.54 1540.27,492.04 1542.62,492.33 1549.27,493.10 1550.09,493.19 1556.63,493.84 1559.90,494.14 1564.80,494.56 1569.71,494.94 1573.85,495.24 1579.52,495.62 1583.89,495.90 1589.33,496.21 1595.01,496.52 1599.15,496.73 1607.34,497.11 1608.96,497.18 1618.77,497.59 1621.01,497.67 1628.58,497.95 1636.17,498.20 1638.40,498.27 1648.21,498.57 1652.97,498.70 1658.02,498.84 1667.83,499.08 1671.59,499.17 1677.64,499.30 1687.46,499.51 1692.23,499.61 1697.27,499.70 1707.08,499.88 1715.12,500.02 1716.89,500.04 1726.71,500.20 1736.52,500.34 1740.49,500.40 1746.33,500.47 1756.14,500.60 1765.96,500.72 1768.61,500.75 1775.77,500.83 1785.58,500.93 1795.39,501.03 1799.79,501.07 1805.20,501.12 1815.02,501.21 1824.83,501.29 1834.34,501.37 1834.64,501.37 1844.45,501.45 1854.27,501.52 1864.08,501.58 1872.65,501.64 1873.89,501.65 1883.70,501.71 1893.51,501.77 1903.33,501.82 1913.14,501.88 1915.12,501.89 1922.95,501.93 1932.76,501.97 1942.58,502.02 1952.39,502.06 1962.20,502.11"/>
<polyline class="c" stroke="#FFC000" points="1481.40,492.15 1481.45,492.18 1481.46,492.18 1481.46,492.19 1481.47,492.19 1481.48,492.20 1481.48,492.20 1481.49,492.21 1481.50,492.21 1481.51,492.22 1481.53,492.23 1481.54,492.24 1481.56,492.25 1481.57,492.26 1481.59,492.27 1481.61,492.28 1481.63,492.30 1481.66,492.31 1481.69,492.33 1481.72,492.35 1481.75,492.37 1481.79,492.39 1481.84,492.42 1481.88,492.44 1481.93,492.47 1481.99,492.50 1482.06,492.54 1482.13,492.58 1482.21,492.62 1482.30,492.66 1482.39,492.71 1482.50,492.77 1482.62,492.83 1482.75,492.89 1482.90,492.97 1483.06,493.04 1483.24,493.13 1483.44,493.22 1483.66,493.32 1483.91,493.43 1484.18,493.54 1484.48,493.67 1484.82,493.80 1485.19,493.94 1485.60,494.10 1486.06,494.26 1486.56,494.43 1487.12,494.61 1487.74,494.80 1488.43,495.00 1489.20,495.21 1490.04,495.43 1490.98,495.65 1491.21,495.71 1492.02,495.88 1493.17,496.12 1494.45,496.37 1495.87,496.62 1497.44,496.87 1499.18,497.13 1501.02,497.37 1501.11,497.39 1503.25,497.64 1505.62,497.90 1508.25,498.16 1510.84,498.39 1511.16,498.41 1514.39,498.66 1517.97,498.91 1520.65,499.08 1521.94,499.15 1526.34,499.39 1530.46,499.58 1531.22,499.62 1536.63,499.84 1540.27,499.97 1542.62,500.06 1549.27,500.26 1550.09,500.29 1556.63,500.47 1559.90,500.55 1564.80,500.66 1569.71,500.76 1573.85,500.85 1579.52,500.95 1583.89,501.02 1589.33,501.11 1595.01,501.19 1599.15,501.25 1607.34,501.36 1608.96,501.38 1618.77,501.49 1621.01,501.51 1628.58,501.59 1636.17,501.66 1638.40,501.68 1648.21,501.77 1652.97,501.81 1658.02,501.85 1667.83,501.92 1671.59,501.94 1677.64,501.98 1687.46,502.05 1692.23,502.07 1697.27,502.10 1707.08,502.16 1715.12,502.20 1716.89,502.21 1726.71,502.26 1736.52,502.30 1740.49,502.32 1746.33,502.35 1756.14,502.39 1765.96,502.43 1768.61,502.44 1775.77,502.46 1785.58,502.50 1795.39,502.53 1799.79,502.55 1805.20,502.57 1815.02,502.60 1824.83,502.63 1834.34,502.66 1834.64,502.66 1844.45,502.68 1854.27,502.71 1864.08,502.74 1872.65,502.76 1873.89,502.76 1883.70,502.79 1893.51,502.81 1903.33,502.83 1913.14,502.86 1915.12,502.86 1922.95,502.88 1932.76,502.90 1942.58,502.92 1952.39,502.94 1962.20,502.96"/>
<polyline class="c" stroke="#000000" points="1481.40,483.39 1481.45,483.43 1481.46,483.43 1481.46,483.43 1481.47,483.44 1481.48,483.44 1481.48,483.45 1481.49,483.46 1481.50,483.46 1481.51,483.47 1481.53,483.48 1481.54,483.49 1481.56,483.50 1481.57,483.51 1481.59,483.53 1481.61,483.54 1481.63,483.56 1481.66,483.57 1481.69,483.59 1481.72,483.62 1481.75,483.64 1481.79,483.67 1481.84,483.70 1481.88,483.73 1481.93,483.75 1481.99,483.78 1482.06,483.81 1482.13,483.85 1482.21,483.89 1482.30,483.93 1482.39,483.97 1482.50,484.03 1482.62,484.08 1482.75,484.14 1482.90,484.21 1483.06,484.29 1483.24,484.37 1483.44,484.46 1483.66,484.56 1483.91,484.67 1484.18,484.79 1484.48,484.93 1484.82,485.07 1485.19,485.23 1485.60,485.40 1486.06,485.58 1486.56,485.78 1487.12,486.00 1487.74,486.23 1488.43,486.48 1489.20,486.75 1490.04,487.04 1490.98,487.34 1491.21,487.42 1492.02,487.67 1493.17,488.02 1494.45,488.38 1495.87,488.76 1497.44,489.17 1499.18,489.58 1501.02,490.00 1501.11,490.02 1503.25,490.47 1505.62,490.93 1508.25,491.41 1510.84,491.84 1511.16,491.89 1514.39,492.39 1517.97,492.89 1520.65,493.23 1521.94,493.39 1526.34,493.89 1530.46,494.32 1531.22,494.40 1536.63,494.90 1540.27,495.21 1542.62,495.39 1549.27,495.88 1550.09,495.94 1556.63,496.37 1559.90,496.56 1564.80,496.84 1569.71,497.09 1573.85,497.29 1579.52,497.55 1583.89,497.74 1589.33,497.95 1595.01,498.17 1599.15,498.31 1607.34,498.58 1608.96,498.63 1618.77,498.91 1621.01,498.97 1628.58,499.16 1636.17,499.34 1638.40,499.40 1648.21,499.60 1652.97,499.70 1658.02,499.79 1667.83,499.97 1671.59,500.03 1677.64,500.13 1687.46,500.27 1692.23,500.34 1697.27,500.41 1707.08,500.53 1715.12,500.63 1716.89,500.65 1726.71,500.75 1736.52,500.85 1740.49,500.89 1746.33,500.94 1756.14,501.02 1765.96,501.10 1768.61,501.12 1775.77,501.17 1785.58,501.24 1795.39,501.30 1799.79,501.33 1805.20,501.36 1815.02,501.42 1824.83,501.47 1834.34,501.51 1834.64,501.52 1844.45,501.56 1854.27,501.60 1864.08,501.64 1872.65,501.67 1873.89,501.67 1883.70,501.71 1893.51,501.74 1903.33,501.76 1913.14,501.79 1915.12,501.79 1922.95,501.81 1932.76,501.83 1942.58,501.85 1952.39,501.87 1962.20,501.89"/>
<polyline class="c" stroke="#FF0000" points="1481.40,454.38 1481.45,454.20 1481.46,454.18 1481.46,454.16 1481.47,454.14 1481.48,454.11 1481.48,454.08 1481.49,454.05 1481.50,454.02 1481.51,453.98 1481.53,453.93 1481.54,453.89 1481.56,453.83 1481.57,453.78 1481.59,453.71 1481.61,453.64 1481.63,453.56 1481.66,453.48 1481.69,453.38 1481.72,453.28 1481.75,453.16 1481.79,453.03 1481.84,452.89 1481.88,452.74 1481.93,452.58 1481.99,452.41 1482.06,452.22 1482.13,452.01 1482.21,451.79 1482.30,451.54 1482.39,451.26 1482.50,450.96 1482.62,450.64 1482.75,450.28 1482.90,449.89 1483.06,449.47 1483.24,449.00 1483.44,448.50 1483.66,447.96 1483.91,447.38 1484.18,446.74 1484.48,446.07 1484.82,445.34 1485.19,444.56 1485.60,443.72 1486.06,442.84 1486.56,441.90 1487.12,440.90 1487.74,439.86 1488.43,438.76 1489.20,437.60 1490.04,436.40 1490.98,435.15 1491.21,434.86 1492.02,433.86 1493.17,432.53 1494.45,431.16 1495.87,429.76 1497.44,428.34 1499.18,426.89 1501.02,425.49 1501.11,425.43 1503.25,423.96 1505.62,422.48 1508.25,421.01 1510.84,419.70 1511.16,419.55 1514.39,418.10 1517.97,416.67 1520.65,415.71 1521.94,415.27 1526.34,413.90 1530.46,412.76 1531.22,412.56 1536.63,411.27 1540.27,410.49 1542.62,410.02 1549.27,408.81 1550.09,408.68 1556.63,407.66 1559.90,407.20 1564.80,406.56 1569.71,405.97 1573.85,405.51 1579.52,404.93 1583.89,404.52 1589.33,404.04 1595.01,403.58 1599.15,403.27 1607.34,402.70 1608.96,402.59 1618.77,402.00 1621.01,401.87 1628.58,401.47 1636.17,401.10 1638.40,400.99 1648.21,400.57 1652.97,400.38 1658.02,400.18 1667.83,399.83 1671.59,399.70 1677.64,399.51 1687.46,399.22 1692.23,399.08 1697.27,398.94 1707.08,398.69 1715.12,398.50 1716.89,398.46 1726.71,398.24 1736.52,398.04 1740.49,397.96 1746.33,397.85 1756.14,397.68 1765.96,397.51 1768.61,397.47 1775.77,397.35 1785.58,397.20 1795.39,397.06 1799.79,397.00 1805.20,396.93 1815.02,396.80 1824.83,396.68 1834.34,396.56 1834.64,396.56 1844.45,396.45 1854.27,396.34 1864.08,396.24 1872.65,396.15 1873.89,396.14 1883.70,396.04 1893.51,395.95 1903.33,395.86 1913.14,395.77 1915.12,395.75 1922.95,395.69 1932.76,395.61 1942.58,395.53 1952.39,395.45 1962.20,395.37"/>
</g>
<g id="panel-D">
<text class="pl" x="2.75" y="629">D</text>
<text class="t" text-anchor="end" x="70.15" y="1051.35" textLength="11.47" lengthAdjust="spacingAndGlyphs">0</text>
<text class="t" text-anchor="end" x="70.15" y="1012.02" textLength="22.94" lengthAdjust="spacingAndGlyphs">10</text>
<text class="t" text-anchor="end" x="70.15" y="972.68" textLength="22.94" lengthAdjust="spacingAndGlyphs">20</text>
<text class="t" text-anchor="end" x="70.15" y="933.35" textLength="22.94" lengthAdjust="spacingAndGlyphs">30</text>
<text class="t" text-anchor="end" x="70.15" y="894.01" textLength="22.94" lengthAdjust="spacingAndGlyphs">40</text>
<text class="t" text-anchor="end" x="70.15" y="854.68" textLength="22.94" lengthAdjust="spacingAndGlyphs">50</text>
<text class="t" text-anchor="end" x="70.15" y="815.34" textLength="22.94" lengthAdjust="spacingAndGlyphs">60</text>
<text class="t" text-anchor="end" x="70.15" y="776.01" textLength="22.94" lengthAdjust="spacingAndGlyphs">70</text>
<text class="t" text-anchor="end" x="70.15" y="736.67" textLength="22.94" lengthAdjust="spacingAndGlyphs">80</text>
<text class="t" text-anchor="end" x="70.15" y="697.34" textLength="22.94" lengthAdjust="spacingAndGlyphs">90</text>
<text class="t" text-anchor="end" x="70.15" y="658" textLength="34.41" lengthAdjust="spacingAndGlyphs">100</text>
<text class="t" text-anchor="middle" x="90.75" y="1080.5" textLength="11.47" lengthAdjust="spacingAndGlyphs">0</text>
<text class="t" text-anchor="middle" x="189.07" y="1080.5" textLength="34.41" lengthAdjust="spacingAndGlyphs">100</text>
<text class="t" text-anchor="middle" x="287.39" y="1080.5" textLength="34.41" lengthAdjust="spacingAndGlyphs">200</text>
<text class="t" text-anchor="middle" x="385.71" y="1080.5" textLength="34.41" lengthAdjust="spacingAndGlyphs">300</text>
<text class="t" text-anchor="middle" x="484.03" y="1080.5" textLength="34.41" lengthAdjust="spacingAndGlyphs">400</text>
<text class="t" text-anchor="middle" x="582.35" y="1080.5" textLength="34.41" lengthAdjust="spacingAndGlyphs">500</text>
<text class="ax xtitle"><tspan x="192.76" y="1115.4" textLength="105.71" lengthAdjust="spacingAndGlyphs">Production</tspan> <tspan x="303.08" y="1115.4" textLength="48.56" lengthAdjust="spacingAndGlyphs">Scale</tspan> <tspan x="357.58" y="1115.4" textLength="16.72" lengthAdjust="spacingAndGlyphs">(L</tspan><tspan class="sub" x="373.95" y="1120.7" textLength="99.09" lengthAdjust="spacingAndGlyphs">Culture Volume</tspan><tspan x="473.18" y="1115.4" textLength="6.96" lengthAdjust="spacingAndGlyphs">)</tspan></text>
<text class="ax ytitle" transform="translate(22.5 846.88) rotate(-90)"><tspan x="-150.45" y="0" textLength="103.55" lengthAdjust="spacingAndGlyphs">Production</tspan> <tspan x="-40.35" y="0" textLength="38.26" lengthAdjust="spacingAndGlyphs">Cost</tspan> <tspan x="5.97" y="0" textLength="106.81" lengthAdjust="spacingAndGlyphs">Breakdown</tspan> <tspan x="118.86" y="0" textLength="31.01" lengthAdjust="spacingAndGlyphs">(%)</tspan></text>
<path class="a" d="M90.7 649.75 V1043.4 H582.9"/>
<polyline class="c" stroke="#3f6fc6" points="103.10,914.07 103.15,913.90 103.16,913.88 103.16,913.86 103.17,913.84 103.18,913.81 103.18,913.79 103.19,913.75 103.20,913.72 103.21,913.68 103.23,913.64 103.24,913.59 103.26,913.54 103.27,913.48 103.29,913.42 103.31,913.35 103.33,913.27 103.36,913.18 103.39,913.08 103.42,912.98 103.45,912.86 103.49,912.73 103.54,912.59 103.58,912.43 103.63,912.25 103.69,912.05 103.76,911.84 103.83,911.60 103.91,911.33 103.99,911.04 104.09,910.72 104.20,910.36 104.32,909.97 104.45,909.53 104.60,909.06 104.76,908.53 104.94,907.95 105.14,907.31 105.36,906.61 105.61,905.84 105.88,904.99 106.18,904.06 106.52,903.04 106.89,901.92 107.30,900.70 107.75,899.37 108.26,897.92 108.82,896.33 109.44,894.61 110.13,892.74 110.89,890.71 111.73,888.52 112.67,886.16 112.90,885.60 113.71,883.61 114.86,880.87 116.14,877.93 117.55,874.79 119.12,871.43 120.86,867.87 122.69,864.27 122.79,864.09 124.92,860.10 127.29,855.90 129.92,851.49 132.49,847.40 132.83,846.88 136.05,842.07 139.63,837.09 142.28,833.60 143.59,831.94 147.99,826.64 152.08,822.06 152.86,821.22 158.26,815.68 161.88,812.23 164.24,810.07 170.88,804.39 171.67,803.75 178.23,798.68 181.47,796.34 186.39,792.97 191.26,789.82 195.43,787.27 201.06,784.01 205.45,781.62 210.86,778.82 216.55,776.04 220.65,774.14 228.87,770.55 230.45,769.90 240.24,766.04 242.51,765.19 250.04,762.51 257.64,759.97 259.83,759.27 269.63,756.28 274.41,754.91 279.43,753.53 289.22,750.97 293.01,750.03 299.02,748.59 308.81,746.38 313.62,745.35 318.61,744.31 328.41,742.37 336.46,740.87 338.20,740.56 348.00,738.85 357.79,737.25 361.79,736.62 367.59,735.74 377.39,734.31 387.18,732.96 389.86,732.60 396.98,731.68 406.77,730.47 416.57,729.32 420.98,728.83 426.37,728.23 436.16,727.20 445.96,726.21 455.48,725.30 455.75,725.28 465.55,724.38 475.34,723.53 485.14,722.71 493.72,722.03 494.94,721.94 504.73,721.19 514.53,720.48 524.32,719.80 534.12,719.15 536.11,719.02 543.92,718.53 553.71,717.93 563.51,717.36 573.30,716.81 583.10,716.28"/>
<polyline class="c" stroke="#70AD47" points="103.10,1006.26 103.15,1006.27 103.16,1006.27 103.16,1006.27 103.17,1006.27 103.18,1006.27 103.18,1006.27 103.19,1006.27 103.20,1006.28 103.21,1006.28 103.23,1006.28 103.24,1006.28 103.26,1006.28 103.27,1006.29 103.29,1006.29 103.31,1006.29 103.33,1006.30 103.36,1006.30 103.39,1006.31 103.42,1006.31 103.45,1006.32 103.49,1006.33 103.54,1006.33 103.58,1006.34 103.63,1006.35 103.69,1006.36 103.76,1006.37 103.83,1006.38 103.91,1006.39 103.99,1006.41 104.09,1006.42 104.20,1006.44 104.32,1006.46 104.45,1006.48 104.60,1006.50 104.76,1006.52 104.94,1006.55 105.14,1006.58 105.36,1006.61 105.61,1006.64 105.88,1006.68 106.18,1006.71 106.52,1006.75 106.89,1006.80 107.30,1006.84 107.75,1006.89 108.26,1006.95 108.82,1007.00 109.44,1007.06 110.13,1007.13 110.89,1007.19 111.73,1007.26 112.67,1007.33 112.90,1007.35 113.71,1007.41 114.86,1007.49 116.14,1007.57 117.55,1007.66 119.12,1007.75 120.86,1007.85 122.69,1007.94 122.79,1007.95 124.92,1008.05 127.29,1008.17 129.92,1008.28 132.49,1008.39 132.83,1008.40 136.05,1008.53 139.63,1008.67 142.28,1008.77 143.59,1008.81 147.99,1008.96 152.08,1009.09 152.86,1009.12 158.26,1009.28 161.88,1009.39 164.24,1009.45 170.88,1009.63 171.67,1009.65 178.23,1009.81 181.47,1009.89 186.39,1010.00 191.26,1010.10 195.43,1010.19 201.06,1010.30 205.45,1010.38 210.86,1010.48 216.55,1010.58 220.65,1010.64 228.87,1010.77 230.45,1010.79 240.24,1010.93 242.51,1010.96 250.04,1011.06 257.64,1011.15 259.83,1011.18 269.63,1011.28 274.41,1011.33 279.43,1011.38 289.22,1011.48 293.01,1011.51 299.02,1011.56 308.81,1011.64 313.62,1011.68 318.61,1011.71 328.41,1011.78 336.46,1011.83 338.20,1011.84 348.00,1011.90 357.79,1011.95 361.79,1011.97 367.59,1012.00 377.39,1012.05 387.18,1012.09 389.86,1012.10 396.98,1012.13 406.77,1012.17 416.57,1012.20 420.98,1012.22 426.37,1012.23 436.16,1012.26 445.96,1012.29 455.48,1012.31 455.75,1012.31 465.55,1012.33 475.34,1012.35 485.14,1012.37 493.72,1012.39 494.94,1012.39 504.73,1012.41 514.53,1012.42 524.32,1012.43 534.12,1012.44 536.11,1012.44 543.92,1012.45 553.71,1012.46 563.51,1012.47 573.30,1012.47 583.10,1012.48"/>
<polyline class="c" stroke="#A5A5A5" points="103.10,927.47 103.15,927.56 103.16,927.57 103.16,927.58 103.17,927.59 103.18,927.61 103.18,927.62 103.19,927.64 103.20,927.66 103.21,927.68 103.23,927.71 103.24,927.73 103.26,927.76 103.27,927.79 103.29,927.83 103.31,927.87 103.33,927.91 103.36,927.96 103.39,928.01 103.42,928.07 103.45,928.14 103.49,928.21 103.54,928.29 103.58,928.38 103.63,928.48 103.69,928.59 103.76,928.71 103.83,928.84 103.91,928.99 103.99,929.15 104.09,929.33 104.20,929.53 104.32,929.75 104.45,929.99 104.60,930.26 104.76,930.55 104.94,930.88 105.14,931.23 105.36,931.62 105.61,932.05 105.88,932.53 106.18,933.05 106.52,933.61 106.89,934.24 107.30,934.92 107.75,935.66 108.26,936.47 108.82,937.35 109.44,938.31 110.13,939.35 110.89,940.48 111.73,941.70 112.67,943.01 112.90,943.32 113.71,944.42 114.86,945.94 116.14,947.56 117.55,949.29 119.12,951.13 120.86,953.08 122.69,955.04 122.79,955.14 124.92,957.31 127.29,959.58 129.92,961.95 132.49,964.15 132.83,964.43 136.05,966.98 139.63,969.62 142.28,971.46 143.59,972.34 147.99,975.11 152.08,977.49 152.86,977.93 158.26,980.78 161.88,982.56 164.24,983.66 170.88,986.55 171.67,986.88 178.23,989.44 181.47,990.62 186.39,992.31 191.26,993.88 195.43,995.15 201.06,996.76 205.45,997.94 210.86,999.32 216.55,1000.68 220.65,1001.61 228.87,1003.36 230.45,1003.68 240.24,1005.55 242.51,1005.96 250.04,1007.26 257.64,1008.48 259.83,1008.82 269.63,1010.25 274.41,1010.91 279.43,1011.57 289.22,1012.79 293.01,1013.24 299.02,1013.92 308.81,1014.98 313.62,1015.47 318.61,1015.96 328.41,1016.88 336.46,1017.59 338.20,1017.74 348.00,1018.54 357.79,1019.30 361.79,1019.60 367.59,1020.02 377.39,1020.69 387.18,1021.33 389.86,1021.49 396.98,1021.93 406.77,1022.50 416.57,1023.04 420.98,1023.28 426.37,1023.56 436.16,1024.04 445.96,1024.51 455.48,1024.94 455.75,1024.95 465.55,1025.38 475.34,1025.78 485.14,1026.16 493.72,1026.49 494.94,1026.53 504.73,1026.88 514.53,1027.22 524.32,1027.54 534.12,1027.85 536.11,1027.91 543.92,1028.15 553.71,1028.43 563.51,1028.70 573.30,1028.96 583.10,1029.21"/>
<polyline class="c" stroke="#FFC000" points="103.10,1002.72 103.15,1002.78 103.16,1002.78 103.16,1002.79 103.17,1002.80 103.18,1002.80 103.18,1002.81 103.19,1002.82 103.20,1002.83 103.21,1002.85 103.23,1002.86 103.24,1002.87 103.26,1002.89 103.27,1002.91 103.29,1002.93 103.31,1002.95 103.33,1002.98 103.36,1003.00 103.39,1003.03 103.42,1003.07 103.45,1003.10 103.49,1003.14 103.54,1003.19 103.58,1003.24 103.63,1003.29 103.69,1003.35 103.76,1003.42 103.83,1003.49 103.91,1003.57 103.99,1003.66 104.09,1003.76 104.20,1003.86 104.32,1003.98 104.45,1004.10 104.60,1004.24 104.76,1004.39 104.94,1004.56 105.14,1004.74 105.36,1004.93 105.61,1005.15 105.88,1005.37 106.18,1005.62 106.52,1005.89 106.89,1006.18 107.30,1006.48 107.75,1006.81 108.26,1007.17 108.82,1007.54 109.44,1007.94 110.13,1008.37 110.89,1008.82 111.73,1009.29 112.67,1009.79 112.90,1009.90 113.71,1010.31 114.86,1010.86 116.14,1011.43 117.55,1012.02 119.12,1012.64 120.86,1013.29 122.69,1013.92 122.79,1013.95 124.92,1014.64 127.29,1015.35 129.92,1016.09 132.49,1016.75 132.83,1016.84 136.05,1017.61 139.63,1018.40 142.28,1018.94 143.59,1019.20 147.99,1020.02 152.08,1020.73 152.86,1020.86 158.26,1021.70 161.88,1022.23 164.24,1022.56 170.88,1023.42 171.67,1023.52 178.23,1024.29 181.47,1024.64 186.39,1025.15 191.26,1025.63 195.43,1026.02 201.06,1026.52 205.45,1026.88 210.86,1027.31 216.55,1027.74 220.65,1028.03 228.87,1028.59 230.45,1028.69 240.24,1029.29 242.51,1029.42 250.04,1029.84 257.64,1030.24 259.83,1030.35 269.63,1030.82 274.41,1031.04 279.43,1031.26 289.22,1031.67 293.01,1031.82 299.02,1032.05 308.81,1032.41 313.62,1032.58 318.61,1032.75 328.41,1033.06 336.46,1033.31 338.20,1033.36 348.00,1033.64 357.79,1033.91 361.79,1034.01 367.59,1034.16 377.39,1034.40 387.18,1034.62 389.86,1034.68 396.98,1034.84 406.77,1035.04 416.57,1035.24 420.98,1035.32 426.37,1035.42 436.16,1035.60 445.96,1035.77 455.48,1035.93 455.75,1035.93 465.55,1036.09 475.34,1036.23 485.14,1036.38 493.72,1036.50 494.94,1036.51 504.73,1036.64 514.53,1036.77 524.32,1036.89 534.12,1037.00 536.11,1037.03 543.92,1037.11 553.71,1037.22 563.51,1037.32 573.30,1037.42 583.10,1037.52"/>
<polyline class="c" stroke="#000000" points="103.10,974.60 103.15,974.63 103.16,974.63 103.16,974.64 103.17,974.64 103.18,974.64 103.18,974.65 103.19,974.65 103.20,974.65 103.21,974.66 103.23,974.67 103.24,974.67 103.26,974.68 103.27,974.69 103.29,974.70 103.31,974.71 103.33,974.72 103.36,974.73 103.39,974.74 103.42,974.76 103.45,974.78 103.49,974.79 103.54,974.81 103.58,974.84 103.63,974.86 103.69,974.89 103.76,974.92 103.83,974.96 103.91,975.00 103.99,975.04 104.09,975.09 104.20,975.14 104.32,975.20 104.45,975.27 104.60,975.35 104.76,975.43 104.94,975.52 105.14,975.63 105.36,975.74 105.61,975.87 105.88,976.01 106.18,976.17 106.52,976.35 106.89,976.55 107.30,976.77 107.75,977.02 108.26,977.30 108.82,977.60 109.44,977.94 110.13,978.31 110.89,978.73 111.73,979.18 112.67,979.69 112.90,979.81 113.71,980.24 114.86,980.85 116.14,981.51 117.55,982.23 119.12,983.01 120.86,983.86 122.69,984.73 122.79,984.77 124.92,985.75 127.29,986.80 129.92,987.92 132.49,988.97 132.83,989.11 136.05,990.36 139.63,991.68 142.28,992.61 143.59,993.05 147.99,994.49 152.08,995.74 152.86,995.97 158.26,997.50 161.88,998.47 164.24,999.07 170.88,1000.68 171.67,1000.86 178.23,1002.31 181.47,1002.98 186.39,1003.96 191.26,1004.87 195.43,1005.61 201.06,1006.57 205.45,1007.27 210.86,1008.10 216.55,1008.93 220.65,1009.50 228.87,1010.57 230.45,1010.77 240.24,1011.93 242.51,1012.19 250.04,1013.01 257.64,1013.79 259.83,1014.00 269.63,1014.92 274.41,1015.35 279.43,1015.78 289.22,1016.58 293.01,1016.88 299.02,1017.33 308.81,1018.03 313.62,1018.36 318.61,1018.70 328.41,1019.32 336.46,1019.81 338.20,1019.91 348.00,1020.47 357.79,1020.99 361.79,1021.20 367.59,1021.50 377.39,1021.97 387.18,1022.43 389.86,1022.55 396.98,1022.86 406.77,1023.28 416.57,1023.68 420.98,1023.85 426.37,1024.06 436.16,1024.42 445.96,1024.77 455.48,1025.10 455.75,1025.11 465.55,1025.44 475.34,1025.75 485.14,1026.05 493.72,1026.31 494.94,1026.34 504.73,1026.62 514.53,1026.89 524.32,1027.16 534.12,1027.41 536.11,1027.46 543.92,1027.66 553.71,1027.90 563.51,1028.13 573.30,1028.36 583.10,1028.58"/>
</g>
<g id="panel-E">
<text class="pl" x="661.5" y="628.8">E</text>
<text class="t" text-anchor="end" x="727.3" y="1047.05" textLength="11.47" lengthAdjust="spacingAndGlyphs">0</text>
<text class="t" text-anchor="end" x="727.3" y="1008.14" textLength="22.94" lengthAdjust="spacingAndGlyphs">10</text>
<text class="t" text-anchor="end" x="727.3" y="969.24" textLength="22.94" lengthAdjust="spacingAndGlyphs">20</text>
<text class="t" text-anchor="end" x="727.3" y="930.34" textLength="22.94" lengthAdjust="spacingAndGlyphs">30</text>
<text class="t" text-anchor="end" x="727.3" y="891.43" textLength="22.94" lengthAdjust="spacingAndGlyphs">40</text>
<text class="t" text-anchor="end" x="727.3" y="852.52" textLength="22.94" lengthAdjust="spacingAndGlyphs">50</text>
<text class="t" text-anchor="end" x="727.3" y="813.62" textLength="22.94" lengthAdjust="spacingAndGlyphs">60</text>
<text class="t" text-anchor="end" x="727.3" y="774.71" textLength="22.94" lengthAdjust="spacingAndGlyphs">70</text>
<text class="t" text-anchor="end" x="727.3" y="735.81" textLength="22.94" lengthAdjust="spacingAndGlyphs">80</text>
<text class="t" text-anchor="end" x="727.3" y="696.9" textLength="22.94" lengthAdjust="spacingAndGlyphs">90</text>
<text class="t" text-anchor="end" x="727.3" y="658" textLength="34.41" lengthAdjust="spacingAndGlyphs">100</text>
<text class="t" text-anchor="middle" x="748.55" y="1075.5" textLength="11.47" lengthAdjust="spacingAndGlyphs">0</text>
<text class="t" text-anchor="middle" x="859.71" y="1075.5" textLength="34.41" lengthAdjust="spacingAndGlyphs">100</text>
<text class="t" text-anchor="middle" x="970.87" y="1075.5" textLength="34.41" lengthAdjust="spacingAndGlyphs">200</text>
<text class="t" text-anchor="middle" x="1082.03" y="1075.5" textLength="34.41" lengthAdjust="spacingAndGlyphs">300</text>
<text class="t" text-anchor="middle" x="1193.19" y="1075.5" textLength="34.41" lengthAdjust="spacingAndGlyphs">400</text>
<text class="t" text-anchor="middle" x="1304.35" y="1075.5" textLength="34.41" lengthAdjust="spacingAndGlyphs">500</text>
<text class="ax xtitle"><tspan x="882.11" y="1110.1" textLength="105.71" lengthAdjust="spacingAndGlyphs">Production</tspan> <tspan x="992.43" y="1110.1" textLength="48.56" lengthAdjust="spacingAndGlyphs">Scale</tspan> <tspan x="1046.93" y="1110.1" textLength="16.72" lengthAdjust="spacingAndGlyphs">(L</tspan><tspan class="sub" x="1063.3" y="1115.4" textLength="99.09" lengthAdjust="spacingAndGlyphs">Culture Volume</tspan><tspan x="1162.53" y="1110.1" textLength="6.96" lengthAdjust="spacingAndGlyphs">)</tspan></text>
<text class="ax ytitle" transform="translate(680 844.72) rotate(-90)"><tspan x="-150.45" y="0" textLength="103.55" lengthAdjust="spacingAndGlyphs">Production</tspan> <tspan x="-40.35" y="0" textLength="38.26" lengthAdjust="spacingAndGlyphs">Cost</tspan> <tspan x="5.97" y="0" textLength="106.81" lengthAdjust="spacingAndGlyphs">Breakdown</tspan> <tspan x="118.86" y="0" textLength="31.01" lengthAdjust="spacingAndGlyphs">(%)</tspan></text>
<path class="a" d="M748.5 649.75 V1039.1 H1304.9"/>
<polyline class="c" stroke="#3f6fc6" points="761.80,923.91 761.85,923.82 761.86,923.82 761.86,923.80 761.87,923.79 761.88,923.78 761.88,923.76 761.89,923.75 761.90,923.73 761.92,923.71 761.93,923.69 761.94,923.66 761.96,923.63 761.98,923.60 761.99,923.57 762.02,923.53 762.04,923.49 762.07,923.44 762.10,923.39 762.13,923.34 762.16,923.27 762.20,923.20 762.25,923.12 762.30,923.04 762.35,922.94 762.41,922.84 762.48,922.72 762.56,922.59 762.64,922.44 762.73,922.28 762.83,922.11 762.95,921.91 763.07,921.69 763.21,921.45 763.37,921.19 763.54,920.90 763.73,920.57 763.95,920.21 764.18,919.82 764.44,919.39 764.73,918.91 765.06,918.38 765.42,917.81 765.81,917.17 766.26,916.48 766.75,915.72 767.29,914.89 767.90,913.98 768.57,913.00 769.31,911.93 770.14,910.77 771.06,909.52 772.07,908.18 772.89,907.13 773.21,906.73 774.46,905.19 775.85,903.54 777.40,901.78 779.12,899.93 781.03,897.97 783.14,895.91 783.98,895.14 785.49,893.77 788.10,891.53 790.99,889.21 794.21,886.82 795.06,886.21 797.77,884.37 801.73,881.87 806.13,879.32 806.15,879.31 811.01,876.75 816.42,874.17 817.24,873.80 822.43,871.58 828.33,869.29 829.11,869.01 836.51,866.46 839.41,865.54 844.74,863.95 850.50,862.36 853.87,861.49 861.59,859.63 864.00,859.09 872.68,857.27 875.25,856.76 883.77,855.19 887.74,854.51 894.85,853.36 901.60,852.35 905.94,851.73 916.99,850.28 917.03,850.27 928.12,848.96 934.07,848.31 939.20,847.77 950.29,846.69 953.03,846.43 961.38,845.70 972.47,844.79 974.07,844.66 983.56,843.96 994.64,843.18 997.44,843.00 1005.73,842.47 1016.82,841.81 1023.37,841.44 1027.91,841.19 1038.99,840.61 1050.08,840.07 1052.17,839.98 1061.17,839.57 1072.26,839.09 1083.34,838.65 1084.13,838.62 1094.43,838.23 1105.52,837.83 1116.61,837.45 1119.60,837.35 1127.70,837.10 1138.78,836.76 1149.87,836.44 1158.98,836.19 1160.96,836.13 1172.05,835.84 1183.13,835.57 1194.22,835.30 1202.70,835.11 1205.31,835.05 1216.40,834.81 1227.49,834.58 1238.57,834.36 1249.66,834.15 1251.23,834.12 1260.75,833.94 1271.84,833.75 1282.92,833.56 1294.01,833.38 1305.10,833.21"/>
<polyline class="c" stroke="#70AD47" points="761.80,1006.27 761.85,1006.30 761.86,1006.30 761.86,1006.30 761.87,1006.31 761.88,1006.31 761.88,1006.31 761.89,1006.32 761.90,1006.32 761.92,1006.33 761.93,1006.34 761.94,1006.34 761.96,1006.35 761.98,1006.36 761.99,1006.37 762.02,1006.38 762.04,1006.40 762.07,1006.41 762.10,1006.43 762.13,1006.44 762.16,1006.46 762.20,1006.48 762.25,1006.51 762.30,1006.53 762.35,1006.56 762.41,1006.59 762.48,1006.62 762.56,1006.66 762.64,1006.70 762.73,1006.75 762.83,1006.80 762.95,1006.85 763.07,1006.91 763.21,1006.98 763.37,1007.05 763.54,1007.12 763.73,1007.21 763.95,1007.30 764.18,1007.39 764.44,1007.50 764.73,1007.61 765.06,1007.74 765.42,1007.87 765.81,1008.01 766.26,1008.15 766.75,1008.31 767.29,1008.48 767.90,1008.65 768.57,1008.84 769.31,1009.03 770.14,1009.23 771.06,1009.43 772.07,1009.65 772.89,1009.81 773.21,1009.87 774.46,1010.10 775.85,1010.33 777.40,1010.56 779.12,1010.80 781.03,1011.04 783.14,1011.29 783.98,1011.38 785.49,1011.54 788.10,1011.78 790.99,1012.03 794.21,1012.28 795.06,1012.35 797.77,1012.53 801.73,1012.78 806.13,1013.03 806.15,1013.03 811.01,1013.28 816.42,1013.53 817.24,1013.57 822.43,1013.78 828.33,1014.00 829.11,1014.03 836.51,1014.28 839.41,1014.37 844.74,1014.52 850.50,1014.68 853.87,1014.77 861.59,1014.96 864.00,1015.02 872.68,1015.21 875.25,1015.27 883.77,1015.44 887.74,1015.52 894.85,1015.65 901.60,1015.77 905.94,1015.84 916.99,1016.02 917.03,1016.02 928.12,1016.18 934.07,1016.27 939.20,1016.34 950.29,1016.49 953.03,1016.53 961.38,1016.63 972.47,1016.77 974.07,1016.79 983.56,1016.90 994.64,1017.02 997.44,1017.05 1005.73,1017.14 1016.82,1017.25 1023.37,1017.32 1027.91,1017.37 1038.99,1017.47 1050.08,1017.58 1052.17,1017.60 1061.17,1017.68 1072.26,1017.78 1083.34,1017.88 1084.13,1017.89 1094.43,1017.97 1105.52,1018.07 1116.61,1018.16 1119.60,1018.18 1127.70,1018.25 1138.78,1018.34 1149.87,1018.42 1158.98,1018.49 1160.96,1018.51 1172.05,1018.59 1183.13,1018.67 1194.22,1018.75 1202.70,1018.81 1205.31,1018.83 1216.40,1018.91 1227.49,1018.99 1238.57,1019.06 1249.66,1019.14 1251.23,1019.15 1260.75,1019.21 1271.84,1019.29 1282.92,1019.36 1294.01,1019.43 1305.10,1019.50"/>
<polyline class="c" stroke="#A5A5A5" points="761.80,935.74 761.85,935.85 761.86,935.87 761.86,935.88 761.87,935.89 761.88,935.91 761.88,935.93 761.89,935.95 761.90,935.97 761.92,936.00 761.93,936.02 761.94,936.06 761.96,936.09 761.98,936.13 761.99,936.17 762.02,936.22 762.04,936.27 762.07,936.33 762.10,936.39 762.13,936.46 762.16,936.54 762.20,936.63 762.25,936.72 762.30,936.83 762.35,936.95 762.41,937.08 762.48,937.22 762.56,937.38 762.64,937.56 762.73,937.75 762.83,937.97 762.95,938.21 763.07,938.47 763.21,938.76 763.37,939.08 763.54,939.43 763.73,939.82 763.95,940.25 764.18,940.72 764.44,941.24 764.73,941.80 765.06,942.42 765.42,943.10 765.81,943.84 766.26,944.65 766.75,945.53 767.29,946.48 767.90,947.52 768.57,948.64 769.31,949.84 770.14,951.15 771.06,952.54 772.07,954.04 772.89,955.19 773.21,955.63 774.46,957.33 775.85,959.13 777.40,961.02 779.12,963.02 781.03,965.11 783.14,967.29 783.98,968.11 785.49,969.55 788.10,971.89 790.99,974.29 794.21,976.75 795.06,977.37 797.77,979.26 801.73,981.79 806.13,984.35 806.15,984.37 811.01,986.92 816.42,989.48 817.24,989.84 822.43,992.02 828.33,994.25 829.11,994.53 836.51,997.00 839.41,997.88 844.74,999.41 850.50,1000.93 853.87,1001.76 861.59,1003.53 864.00,1004.04 872.68,1005.77 875.25,1006.25 883.77,1007.73 887.74,1008.37 894.85,1009.45 901.60,1010.41 905.94,1010.99 916.99,1012.36 917.03,1012.36 928.12,1013.60 934.07,1014.22 939.20,1014.73 950.29,1015.76 953.03,1016.00 961.38,1016.70 972.47,1017.57 974.07,1017.69 983.56,1018.38 994.64,1019.13 997.44,1019.31 1005.73,1019.83 1016.82,1020.48 1023.37,1020.85 1027.91,1021.10 1038.99,1021.68 1050.08,1022.22 1052.17,1022.32 1061.17,1022.74 1072.26,1023.24 1083.34,1023.71 1084.13,1023.74 1094.43,1024.15 1105.52,1024.58 1116.61,1024.99 1119.60,1025.10 1127.70,1025.39 1138.78,1025.76 1149.87,1026.13 1158.98,1026.42 1160.96,1026.48 1172.05,1026.82 1183.13,1027.15 1194.22,1027.46 1202.70,1027.70 1205.31,1027.77 1216.40,1028.07 1227.49,1028.36 1238.57,1028.64 1249.66,1028.91 1251.23,1028.95 1260.75,1029.18 1271.84,1029.44 1282.92,1029.70 1294.01,1029.94 1305.10,1030.18"/>
<polyline class="c" stroke="#FFC000" points="761.80,1003.16 761.85,1003.21 761.86,1003.22 761.86,1003.23 761.87,1003.23 761.88,1003.24 761.88,1003.25 761.89,1003.26 761.90,1003.27 761.92,1003.28 761.93,1003.30 761.94,1003.31 761.96,1003.33 761.98,1003.35 761.99,1003.37 762.02,1003.39 762.04,1003.41 762.07,1003.44 762.10,1003.47 762.13,1003.51 762.16,1003.54 762.20,1003.59 762.25,1003.63 762.30,1003.68 762.35,1003.74 762.41,1003.80 762.48,1003.87 762.56,1003.94 762.64,1004.02 762.73,1004.12 762.83,1004.22 762.95,1004.33 763.07,1004.45 763.21,1004.58 763.37,1004.72 763.54,1004.88 763.73,1005.06 763.95,1005.24 764.18,1005.45 764.44,1005.68 764.73,1005.92 765.06,1006.18 765.42,1006.47 765.81,1006.78 766.26,1007.11 766.75,1007.46 767.29,1007.84 767.90,1008.25 768.57,1008.69 769.31,1009.15 770.14,1009.64 771.06,1010.16 772.07,1010.70 772.89,1011.12 773.21,1011.28 774.46,1011.88 775.85,1012.51 777.40,1013.17 779.12,1013.85 781.03,1014.55 783.14,1015.28 783.98,1015.56 785.49,1016.03 788.10,1016.80 790.99,1017.59 794.21,1018.39 795.06,1018.59 797.77,1019.20 801.73,1020.02 806.13,1020.85 806.15,1020.86 811.01,1021.68 816.42,1022.52 817.24,1022.64 822.43,1023.35 828.33,1024.08 829.11,1024.17 836.51,1024.99 839.41,1025.28 844.74,1025.79 850.50,1026.30 853.87,1026.58 861.59,1027.18 864.00,1027.35 872.68,1027.94 875.25,1028.10 883.77,1028.60 887.74,1028.82 894.85,1029.19 901.60,1029.52 905.94,1029.72 916.99,1030.19 917.03,1030.19 928.12,1030.62 934.07,1030.83 939.20,1031.00 950.29,1031.35 953.03,1031.43 961.38,1031.67 972.47,1031.97 974.07,1032.01 983.56,1032.24 994.64,1032.48 997.44,1032.54 1005.73,1032.71 1016.82,1032.93 1023.37,1033.04 1027.91,1033.12 1038.99,1033.30 1050.08,1033.48 1052.17,1033.51 1061.17,1033.63 1072.26,1033.78 1083.34,1033.92 1084.13,1033.93 1094.43,1034.05 1105.52,1034.17 1116.61,1034.29 1119.60,1034.32 1127.70,1034.39 1138.78,1034.49 1149.87,1034.59 1158.98,1034.66 1160.96,1034.68 1172.05,1034.76 1183.13,1034.84 1194.22,1034.91 1202.70,1034.97 1205.31,1034.98 1216.40,1035.05 1227.49,1035.11 1238.57,1035.17 1249.66,1035.23 1251.23,1035.23 1260.75,1035.28 1271.84,1035.33 1282.92,1035.37 1294.01,1035.42 1305.10,1035.46"/>
<polyline class="c" stroke="#000000" points="761.80,978.77 761.85,978.81 761.86,978.81 761.86,978.82 761.87,978.82 761.88,978.83 761.88,978.83 761.89,978.84 761.90,978.85 761.92,978.86 761.93,978.87 761.94,978.88 761.96,978.89 761.98,978.90 761.99,978.92 762.02,978.93 762.04,978.95 762.07,978.97 762.10,978.99 762.13,979.02 762.16,979.04 762.20,979.07 762.25,979.11 762.30,979.14 762.35,979.19 762.41,979.23 762.48,979.28 762.56,979.34 762.64,979.40 762.73,979.47 762.83,979.55 762.95,979.64 763.07,979.73 763.21,979.84 763.37,979.96 763.54,980.09 763.73,980.23 763.95,980.40 764.18,980.58 764.44,980.78 764.73,981.00 765.06,981.24 765.42,981.51 765.81,981.81 766.26,982.14 766.75,982.51 767.29,982.91 767.90,983.35 768.57,983.84 769.31,984.37 770.14,984.95 771.06,985.59 772.07,986.27 772.89,986.81 773.21,987.02 774.46,987.82 775.85,988.69 777.40,989.61 779.12,990.60 781.03,991.65 783.14,992.75 783.98,993.17 785.49,993.92 788.10,995.14 790.99,996.41 794.21,997.72 795.06,998.06 797.77,999.08 801.73,1000.46 806.13,1001.88 806.15,1001.89 811.01,1003.31 816.42,1004.75 817.24,1004.96 822.43,1006.20 828.33,1007.48 829.11,1007.64 836.51,1009.07 839.41,1009.59 844.74,1010.48 850.50,1011.37 853.87,1011.86 861.59,1012.90 864.00,1013.20 872.68,1014.23 875.25,1014.51 883.77,1015.39 887.74,1015.77 894.85,1016.42 901.60,1016.99 905.94,1017.34 916.99,1018.16 917.03,1018.16 928.12,1018.91 934.07,1019.28 939.20,1019.59 950.29,1020.21 953.03,1020.35 961.38,1020.78 972.47,1021.31 974.07,1021.38 983.56,1021.80 994.64,1022.25 997.44,1022.36 1005.73,1022.68 1016.82,1023.08 1023.37,1023.31 1027.91,1023.46 1038.99,1023.82 1050.08,1024.16 1052.17,1024.22 1061.17,1024.49 1072.26,1024.80 1083.34,1025.09 1084.13,1025.11 1094.43,1025.38 1105.52,1025.65 1116.61,1025.92 1119.60,1025.99 1127.70,1026.17 1138.78,1026.42 1149.87,1026.66 1158.98,1026.85 1160.96,1026.89 1172.05,1027.12 1183.13,1027.34 1194.22,1027.56 1202.70,1027.72 1205.31,1027.77 1216.40,1027.98 1227.49,1028.18 1238.57,1028.38 1249.66,1028.58 1251.23,1028.61 1260.75,1028.77 1271.84,1028.96 1282.92,1029.15 1294.01,1029.34 1305.10,1029.52"/>
<polyline class="c" stroke="#FF0000" points="761.80,1000.55 761.85,1000.43 761.86,1000.42 761.86,1000.40 761.87,1000.39 761.88,1000.37 761.88,1000.35 761.89,1000.32 761.90,1000.30 761.92,1000.27 761.93,1000.24 761.94,1000.21 761.96,1000.17 761.98,1000.13 761.99,1000.08 762.02,1000.03 762.04,999.97 762.07,999.91 762.10,999.84 762.13,999.76 762.16,999.67 762.20,999.58 762.25,999.47 762.30,999.35 762.35,999.22 762.41,999.08 762.48,998.92 762.56,998.74 762.64,998.55 762.73,998.33 762.83,998.10 762.95,997.83 763.07,997.54 763.21,997.22 763.37,996.87 763.54,996.48 763.73,996.05 763.95,995.58 764.18,995.06 764.44,994.49 764.73,993.87 765.06,993.19 765.42,992.44 765.81,991.62 766.26,990.73 766.75,989.77 767.29,988.72 767.90,987.57 768.57,986.34 769.31,985.01 770.14,983.58 771.06,982.04 772.07,980.39 772.89,979.12 773.21,978.63 774.46,976.76 775.85,974.78 777.40,972.69 779.12,970.49 781.03,968.19 783.14,965.78 783.98,964.88 785.49,963.29 788.10,960.71 790.99,958.07 794.21,955.36 795.06,954.67 797.77,952.60 801.73,949.81 806.13,947.00 806.15,946.99 811.01,944.19 816.42,941.38 817.24,940.99 822.43,938.61 828.33,936.17 829.11,935.87 836.51,933.19 839.41,932.23 844.74,930.58 850.50,928.94 853.87,928.04 861.59,926.15 864.00,925.60 872.68,923.76 875.25,923.25 883.77,921.68 887.74,921.01 894.85,919.87 901.60,918.87 905.94,918.26 916.99,916.84 917.03,916.83 928.12,915.55 934.07,914.92 939.20,914.39 950.29,913.34 953.03,913.10 961.38,912.38 972.47,911.50 974.07,911.37 983.56,910.68 994.64,909.92 997.44,909.74 1005.73,909.22 1016.82,908.56 1023.37,908.19 1027.91,907.94 1038.99,907.35 1050.08,906.80 1052.17,906.70 1061.17,906.27 1072.26,905.77 1083.34,905.29 1084.13,905.26 1094.43,904.83 1105.52,904.39 1116.61,903.96 1119.60,903.85 1127.70,903.55 1138.78,903.15 1149.87,902.77 1158.98,902.46 1160.96,902.39 1172.05,902.03 1183.13,901.67 1194.22,901.32 1202.70,901.06 1205.31,900.98 1216.40,900.65 1227.49,900.32 1238.57,899.99 1249.66,899.67 1251.23,899.63 1260.75,899.36 1271.84,899.05 1282.92,898.75 1294.01,898.44 1305.10,898.15"/>
</g>
<g id="panel-F">
<text class="pl" x="1386.85" y="628.8">F</text>
<text class="t" text-anchor="end" x="1424.65" y="1047.95" textLength="11.47" lengthAdjust="spacingAndGlyphs">0</text>
<text class="t" text-anchor="end" x="1424.65" y="1011.42" textLength="22.94" lengthAdjust="spacingAndGlyphs">10</text>
<text class="t" text-anchor="end" x="1424.65" y="974.89" textLength="22.94" lengthAdjust="spacingAndGlyphs">20</text>
<text class="t" text-anchor="end" x="1424.65" y="938.36" textLength="22.94" lengthAdjust="spacingAndGlyphs">30</text>
<text class="t" text-anchor="end" x="1424.65" y="901.83" textLength="22.94" lengthAdjust="spacingAndGlyphs">40</text>
<text class="t" text-anchor="end" x="1424.65" y="865.3" textLength="22.94" lengthAdjust="spacingAndGlyphs">50</text>
<text class="t" text-anchor="end" x="1424.65" y="828.77" textLength="22.94" lengthAdjust="spacingAndGlyphs">60</text>
<text class="t" text-anchor="end" x="1424.65" y="792.24" textLength="22.94" lengthAdjust="spacingAndGlyphs">70</text>
<text class="t" text-anchor="end" x="1424.65" y="755.71" textLength="22.94" lengthAdjust="spacingAndGlyphs">80</text>
<text class="t" text-anchor="end" x="1424.65" y="719.18" textLength="22.94" lengthAdjust="spacingAndGlyphs">90</text>
<text class="t" text-anchor="end" x="1424.65" y="682.65" textLength="34.41" lengthAdjust="spacingAndGlyphs">100</text>
<text class="t" text-anchor="middle" x="1446.15" y="1077.8" textLength="11.47" lengthAdjust="spacingAndGlyphs">0</text>
<text class="t" text-anchor="middle" x="1551.21" y="1077.8" textLength="34.41" lengthAdjust="spacingAndGlyphs">100</text>
<text class="t" text-anchor="middle" x="1656.27" y="1077.8" textLength="34.41" lengthAdjust="spacingAndGlyphs">200</text>
<text class="t" text-anchor="middle" x="1761.33" y="1077.8" textLength="34.41" lengthAdjust="spacingAndGlyphs">300</text>
<text class="t" text-anchor="middle" x="1866.39" y="1077.8" textLength="34.41" lengthAdjust="spacingAndGlyphs">400</text>
<text class="t" text-anchor="middle" x="1971.45" y="1077.8" textLength="34.41" lengthAdjust="spacingAndGlyphs">500</text>
<text class="ax xtitle"><tspan x="1564.61" y="1112.4" textLength="105.71" lengthAdjust="spacingAndGlyphs">Production</tspan> <tspan x="1674.93" y="1112.4" textLength="48.56" lengthAdjust="spacingAndGlyphs">Scale</tspan> <tspan x="1729.43" y="1112.4" textLength="16.72" lengthAdjust="spacingAndGlyphs">(L</tspan><tspan class="sub" x="1745.8" y="1117.7" textLength="99.09" lengthAdjust="spacingAndGlyphs">Culture Volume</tspan><tspan x="1845.03" y="1112.4" textLength="6.96" lengthAdjust="spacingAndGlyphs">)</tspan></text>
<text class="ax ytitle" transform="translate(1377.8 857.5) rotate(-90)"><tspan x="-150.45" y="0" textLength="103.55" lengthAdjust="spacingAndGlyphs">Production</tspan> <tspan x="-40.35" y="0" textLength="38.26" lengthAdjust="spacingAndGlyphs">Cost</tspan> <tspan x="5.97" y="0" textLength="106.81" lengthAdjust="spacingAndGlyphs">Breakdown</tspan> <tspan x="118.86" y="0" textLength="31.01" lengthAdjust="spacingAndGlyphs">(%)</tspan></text>
<path class="a" d="M1446.1 674.4 V1040 H1972"/>
<polyline class="c" stroke="#3f6fc6" points="1458.30,957.64 1458.35,957.66 1458.36,957.67 1458.36,957.67 1458.37,957.67 1458.38,957.68 1458.38,957.68 1458.39,957.68 1458.40,957.69 1458.41,957.69 1458.43,957.70 1458.44,957.70 1458.46,957.71 1458.47,957.72 1458.49,957.73 1458.51,957.73 1458.54,957.72 1458.56,957.72 1458.59,957.71 1458.62,957.71 1458.66,957.70 1458.70,957.69 1458.74,957.68 1458.79,957.67 1458.84,957.66 1458.90,957.65 1458.97,957.63 1459.04,957.62 1459.12,957.60 1459.21,957.58 1459.31,957.55 1459.43,957.53 1459.55,957.49 1459.69,957.46 1459.84,957.42 1460.00,957.38 1460.19,957.33 1460.40,957.27 1460.63,957.21 1460.88,957.14 1461.16,957.06 1461.48,956.97 1461.82,956.87 1462.21,956.76 1462.64,956.63 1463.11,956.49 1463.64,956.34 1464.22,956.17 1464.87,955.98 1465.59,955.78 1466.39,955.56 1467.27,955.32 1468.25,955.07 1468.79,954.93 1469.34,954.80 1470.55,954.51 1471.89,954.21 1473.37,953.90 1475.02,953.58 1476.85,953.25 1478.88,952.91 1479.28,952.85 1481.13,952.57 1483.63,952.23 1486.40,951.90 1489.47,951.57 1489.76,951.54 1492.88,951.25 1496.67,950.94 1500.25,950.69 1500.86,950.65 1505.52,950.38 1510.68,950.12 1510.74,950.12 1516.41,949.89 1521.23,949.73 1522.77,949.68 1529.82,949.49 1531.71,949.45 1537.64,949.32 1542.20,949.24 1546.32,949.18 1552.69,949.09 1555.94,949.05 1563.18,948.97 1566.62,948.94 1573.67,948.89 1578.47,948.85 1584.15,948.82 1591.61,948.77 1594.64,948.76 1605.13,948.71 1606.19,948.71 1615.62,948.67 1622.37,948.64 1626.10,948.63 1636.59,948.60 1640.31,948.58 1647.08,948.56 1657.57,948.53 1660.22,948.52 1668.06,948.50 1678.54,948.47 1682.30,948.45 1689.03,948.43 1699.52,948.40 1706.81,948.37 1710.01,948.36 1720.49,948.33 1730.98,948.29 1733.98,948.28 1741.47,948.25 1751.96,948.21 1762.44,948.17 1764.14,948.16 1772.93,948.12 1783.42,948.08 1793.91,948.03 1797.59,948.01 1804.40,947.98 1814.88,947.93 1825.37,947.88 1834.70,947.84 1835.86,947.83 1846.35,947.78 1856.83,947.72 1867.32,947.67 1875.86,947.62 1877.81,947.61 1888.30,947.55 1898.79,947.49 1909.27,947.43 1919.76,947.37 1921.53,947.36 1930.25,947.31 1940.74,947.25 1951.22,947.18 1961.71,947.12 1972.20,947.06"/>
<polyline class="c" stroke="#70AD47" points="1458.30,1016.10 1458.35,1016.14 1458.36,1016.14 1458.36,1016.15 1458.37,1016.16 1458.38,1016.16 1458.38,1016.17 1458.39,1016.18 1458.40,1016.19 1458.41,1016.20 1458.43,1016.21 1458.44,1016.22 1458.46,1016.23 1458.47,1016.25 1458.49,1016.26 1458.51,1016.28 1458.54,1016.30 1458.56,1016.32 1458.59,1016.35 1458.62,1016.37 1458.66,1016.40 1458.70,1016.43 1458.74,1016.47 1458.79,1016.51 1458.84,1016.55 1458.90,1016.60 1458.97,1016.65 1459.04,1016.71 1459.12,1016.78 1459.21,1016.85 1459.31,1016.92 1459.43,1017.01 1459.55,1017.10 1459.69,1017.20 1459.84,1017.31 1460.00,1017.42 1460.19,1017.55 1460.40,1017.69 1460.63,1017.84 1460.88,1018.00 1461.16,1018.17 1461.48,1018.36 1461.82,1018.56 1462.21,1018.77 1462.64,1019.00 1463.11,1019.23 1463.64,1019.49 1464.22,1019.75 1464.87,1020.03 1465.59,1020.32 1466.39,1020.62 1467.27,1020.94 1468.25,1021.26 1468.79,1021.43 1469.34,1021.60 1470.55,1021.94 1471.89,1022.30 1473.37,1022.66 1475.02,1023.02 1476.85,1023.39 1478.88,1023.77 1479.28,1023.83 1481.13,1024.14 1483.63,1024.52 1486.40,1024.89 1489.47,1025.27 1489.76,1025.30 1492.88,1025.64 1496.67,1026.00 1500.25,1026.31 1500.86,1026.36 1505.52,1026.71 1510.68,1027.06 1510.74,1027.06 1516.41,1027.40 1521.23,1027.65 1522.77,1027.72 1529.82,1028.04 1531.71,1028.12 1537.64,1028.34 1542.20,1028.50 1546.32,1028.63 1552.69,1028.82 1555.94,1028.91 1563.18,1029.10 1566.62,1029.18 1573.67,1029.33 1578.47,1029.43 1584.15,1029.53 1591.61,1029.66 1594.64,1029.71 1605.13,1029.87 1606.19,1029.88 1615.62,1030.01 1622.37,1030.09 1626.10,1030.13 1636.59,1030.24 1640.31,1030.28 1647.08,1030.34 1657.57,1030.44 1660.22,1030.46 1668.06,1030.52 1678.54,1030.59 1682.30,1030.62 1689.03,1030.66 1699.52,1030.72 1706.81,1030.76 1710.01,1030.78 1720.49,1030.83 1730.98,1030.88 1733.98,1030.89 1741.47,1030.92 1751.96,1030.96 1762.44,1031.00 1764.14,1031.01 1772.93,1031.04 1783.42,1031.07 1793.91,1031.10 1797.59,1031.11 1804.40,1031.12 1814.88,1031.15 1825.37,1031.17 1834.70,1031.19 1835.86,1031.19 1846.35,1031.21 1856.83,1031.23 1867.32,1031.25 1875.86,1031.26 1877.81,1031.27 1888.30,1031.28 1898.79,1031.29 1909.27,1031.31 1919.76,1031.32 1921.53,1031.32 1930.25,1031.33 1940.74,1031.34 1951.22,1031.35 1961.71,1031.35 1972.20,1031.36"/>
<polyline class="c" stroke="#A5A5A5" points="1458.30,965.58 1458.35,965.74 1458.36,965.76 1458.36,965.78 1458.37,965.80 1458.38,965.82 1458.38,965.85 1458.39,965.88 1458.40,965.91 1458.41,965.95 1458.43,965.99 1458.44,966.03 1458.46,966.08 1458.47,966.14 1458.49,966.20 1458.51,966.26 1458.54,966.32 1458.56,966.38 1458.59,966.45 1458.62,966.54 1458.66,966.62 1458.70,966.72 1458.74,966.83 1458.79,966.95 1458.84,967.09 1458.90,967.23 1458.97,967.39 1459.04,967.57 1459.12,967.77 1459.21,967.99 1459.31,968.23 1459.43,968.49 1459.55,968.78 1459.69,969.09 1459.84,969.44 1460.00,969.82 1460.19,970.24 1460.40,970.69 1460.63,971.19 1460.88,971.73 1461.16,972.32 1461.48,972.96 1461.82,973.66 1462.21,974.41 1462.64,975.22 1463.11,976.10 1463.64,977.04 1464.22,978.05 1464.87,979.13 1465.59,980.28 1466.39,981.50 1467.27,982.80 1468.25,984.17 1468.79,984.88 1469.34,985.61 1470.55,987.12 1471.89,988.70 1473.37,990.34 1475.02,992.04 1476.85,993.79 1478.88,995.58 1479.28,995.92 1481.13,997.42 1483.63,999.28 1486.40,1001.17 1489.47,1003.06 1489.76,1003.23 1492.88,1004.96 1496.67,1006.85 1500.25,1008.46 1500.86,1008.72 1505.52,1010.56 1510.68,1012.36 1510.74,1012.38 1516.41,1014.11 1521.23,1015.43 1522.77,1015.82 1529.82,1017.46 1531.71,1017.86 1537.64,1019.03 1542.20,1019.85 1546.32,1020.54 1552.69,1021.51 1555.94,1021.97 1563.18,1022.91 1566.62,1023.32 1573.67,1024.11 1578.47,1024.60 1584.15,1025.14 1591.61,1025.80 1594.64,1026.05 1605.13,1026.85 1606.19,1026.92 1615.62,1027.56 1622.37,1027.97 1626.10,1028.19 1636.59,1028.76 1640.31,1028.95 1647.08,1029.28 1657.57,1029.75 1660.22,1029.86 1668.06,1030.17 1678.54,1030.57 1682.30,1030.70 1689.03,1030.93 1699.52,1031.27 1706.81,1031.49 1710.01,1031.59 1720.49,1031.88 1730.98,1032.15 1733.98,1032.23 1741.47,1032.41 1751.96,1032.66 1762.44,1032.89 1764.14,1032.92 1772.93,1033.10 1783.42,1033.31 1793.91,1033.51 1797.59,1033.58 1804.40,1033.70 1814.88,1033.88 1825.37,1034.05 1834.70,1034.20 1835.86,1034.22 1846.35,1034.38 1856.83,1034.53 1867.32,1034.69 1875.86,1034.80 1877.81,1034.83 1888.30,1034.97 1898.79,1035.11 1909.27,1035.24 1919.76,1035.37 1921.53,1035.39 1930.25,1035.50 1940.74,1035.62 1951.22,1035.74 1961.71,1035.86 1972.20,1035.98"/>
<polyline class="c" stroke="#FFC000" points="1458.30,1013.62 1458.35,1013.70 1458.36,1013.71 1458.36,1013.72 1458.37,1013.73 1458.38,1013.74 1458.38,1013.75 1458.39,1013.77 1458.40,1013.78 1458.41,1013.80 1458.43,1013.82 1458.44,1013.84 1458.46,1013.86 1458.47,1013.89 1458.49,1013.92 1458.51,1013.94 1458.54,1013.98 1458.56,1014.01 1458.59,1014.05 1458.62,1014.09 1458.66,1014.14 1458.70,1014.19 1458.74,1014.25 1458.79,1014.31 1458.84,1014.38 1458.90,1014.45 1458.97,1014.54 1459.04,1014.63 1459.12,1014.73 1459.21,1014.84 1459.31,1014.96 1459.43,1015.09 1459.55,1015.24 1459.69,1015.39 1459.84,1015.56 1460.00,1015.75 1460.19,1015.95 1460.40,1016.17 1460.63,1016.40 1460.88,1016.65 1461.16,1016.92 1461.48,1017.21 1461.82,1017.52 1462.21,1017.85 1462.64,1018.20 1463.11,1018.57 1463.64,1018.96 1464.22,1019.37 1464.87,1019.80 1465.59,1020.25 1466.39,1020.72 1467.27,1021.20 1468.25,1021.70 1468.79,1021.95 1469.34,1022.21 1470.55,1022.73 1471.89,1023.27 1473.37,1023.82 1475.02,1024.37 1476.85,1024.93 1478.88,1025.49 1479.28,1025.59 1481.13,1026.05 1483.63,1026.62 1486.40,1027.18 1489.47,1027.74 1489.76,1027.79 1492.88,1028.29 1496.67,1028.84 1500.25,1029.31 1500.86,1029.38 1505.52,1029.91 1510.68,1030.43 1510.74,1030.44 1516.41,1030.94 1521.23,1031.32 1522.77,1031.44 1529.82,1031.92 1531.71,1032.04 1537.64,1032.40 1542.20,1032.65 1546.32,1032.86 1552.69,1033.16 1555.94,1033.30 1563.18,1033.60 1566.62,1033.73 1573.67,1033.99 1578.47,1034.15 1584.15,1034.34 1591.61,1034.56 1594.64,1034.65 1605.13,1034.93 1606.19,1034.96 1615.62,1035.19 1622.37,1035.34 1626.10,1035.42 1636.59,1035.64 1640.31,1035.71 1647.08,1035.84 1657.57,1036.03 1660.22,1036.07 1668.06,1036.20 1678.54,1036.37 1682.30,1036.42 1689.03,1036.52 1699.52,1036.67 1706.81,1036.76 1710.01,1036.80 1720.49,1036.94 1730.98,1037.06 1733.98,1037.10 1741.47,1037.18 1751.96,1037.29 1762.44,1037.40 1764.14,1037.42 1772.93,1037.51 1783.42,1037.61 1793.91,1037.70 1797.59,1037.74 1804.40,1037.80 1814.88,1037.89 1825.37,1037.97 1834.70,1038.05 1835.86,1038.06 1846.35,1038.14 1856.83,1038.22 1867.32,1038.30 1875.86,1038.36 1877.81,1038.37 1888.30,1038.44 1898.79,1038.51 1909.27,1038.58 1919.76,1038.65 1921.53,1038.66 1930.25,1038.71 1940.74,1038.77 1951.22,1038.84 1961.71,1038.90 1972.20,1038.95"/>
<polyline class="c" stroke="#000000" points="1458.30,996.48 1458.35,996.57 1458.36,996.58 1458.36,996.59 1458.37,996.60 1458.38,996.61 1458.38,996.63 1458.39,996.64 1458.40,996.66 1458.41,996.68 1458.43,996.70 1458.44,996.72 1458.46,996.75 1458.47,996.78 1458.49,996.81 1458.51,996.84 1458.54,996.88 1458.56,996.92 1458.59,996.96 1458.62,997.00 1458.66,997.05 1458.70,997.11 1458.74,997.17 1458.79,997.24 1458.84,997.31 1458.90,997.39 1458.97,997.49 1459.04,997.59 1459.12,997.70 1459.21,997.82 1459.31,997.95 1459.43,998.10 1459.55,998.26 1459.69,998.43 1459.84,998.62 1460.00,998.83 1460.19,999.06 1460.40,999.31 1460.63,999.58 1460.88,999.87 1461.16,1000.19 1461.48,1000.53 1461.82,1000.90 1462.21,1001.30 1462.64,1001.73 1463.11,1002.19 1463.64,1002.68 1464.22,1003.20 1464.87,1003.76 1465.59,1004.35 1466.39,1004.98 1467.27,1005.64 1468.25,1006.34 1468.79,1006.70 1469.34,1007.07 1470.55,1007.83 1471.89,1008.62 1473.37,1009.45 1475.02,1010.31 1476.85,1011.19 1478.88,1012.10 1479.28,1012.27 1481.13,1013.03 1483.63,1013.98 1486.40,1014.95 1489.47,1015.92 1489.76,1016.01 1492.88,1016.91 1496.67,1017.90 1500.25,1018.76 1500.86,1018.89 1505.52,1019.88 1510.68,1020.87 1510.74,1020.88 1516.41,1021.84 1521.23,1022.57 1522.77,1022.79 1529.82,1023.73 1531.71,1023.97 1537.64,1024.65 1542.20,1025.14 1546.32,1025.55 1552.69,1026.13 1555.94,1026.41 1563.18,1026.99 1566.62,1027.25 1573.67,1027.75 1578.47,1028.06 1584.15,1028.41 1591.61,1028.84 1594.64,1029.00 1605.13,1029.53 1606.19,1029.58 1615.62,1030.01 1622.37,1030.29 1626.10,1030.44 1636.59,1030.83 1640.31,1030.96 1647.08,1031.19 1657.57,1031.52 1660.22,1031.60 1668.06,1031.82 1678.54,1032.11 1682.30,1032.20 1689.03,1032.37 1699.52,1032.61 1706.81,1032.77 1710.01,1032.83 1720.49,1033.05 1730.98,1033.24 1733.98,1033.30 1741.47,1033.43 1751.96,1033.60 1762.44,1033.77 1764.14,1033.79 1772.93,1033.92 1783.42,1034.07 1793.91,1034.20 1797.59,1034.25 1804.40,1034.33 1814.88,1034.46 1825.37,1034.58 1834.70,1034.67 1835.86,1034.69 1846.35,1034.79 1856.83,1034.89 1867.32,1034.99 1875.86,1035.06 1877.81,1035.08 1888.30,1035.17 1898.79,1035.25 1909.27,1035.33 1919.76,1035.41 1921.53,1035.42 1930.25,1035.48 1940.74,1035.55 1951.22,1035.61 1961.71,1035.68 1972.20,1035.74"/>
<polyline class="c" stroke="#FF0000" points="1458.30,929.07 1458.35,928.68 1458.36,928.64 1458.36,928.59 1458.37,928.54 1458.38,928.48 1458.38,928.42 1458.39,928.34 1458.40,928.27 1458.41,928.18 1458.43,928.08 1458.44,927.97 1458.46,927.86 1458.47,927.72 1458.49,927.58 1458.51,927.45 1458.54,927.32 1458.56,927.18 1458.59,927.02 1458.62,926.84 1458.66,926.65 1458.70,926.44 1458.74,926.20 1458.79,925.94 1458.84,925.65 1458.90,925.34 1458.97,924.99 1459.04,924.60 1459.12,924.18 1459.21,923.72 1459.31,923.21 1459.43,922.65 1459.55,922.03 1459.69,921.36 1459.84,920.62 1460.00,919.82 1460.19,918.94 1460.40,917.99 1460.63,916.95 1460.88,915.82 1461.16,914.60 1461.48,913.28 1461.82,911.85 1462.21,910.31 1462.64,908.65 1463.11,906.87 1463.64,904.97 1464.22,902.94 1464.87,900.78 1465.59,898.48 1466.39,896.04 1467.27,893.47 1468.25,890.76 1468.79,889.34 1469.34,887.91 1470.55,884.94 1471.89,881.84 1473.37,878.61 1475.02,875.28 1476.85,871.84 1478.88,868.31 1479.28,867.65 1481.13,864.70 1483.63,861.02 1486.40,857.30 1489.47,853.55 1489.76,853.21 1492.88,849.78 1496.67,846.02 1500.25,842.80 1500.86,842.28 1505.52,838.58 1510.68,834.94 1510.74,834.90 1516.41,831.38 1521.23,828.71 1522.77,827.91 1529.82,824.55 1531.71,823.72 1537.64,821.30 1542.20,819.61 1546.32,818.20 1552.69,816.18 1555.94,815.23 1563.18,813.27 1566.62,812.41 1573.67,810.78 1578.47,809.75 1584.15,808.61 1591.61,807.24 1594.64,806.72 1605.13,805.05 1606.19,804.89 1615.62,803.57 1622.37,802.70 1626.10,802.25 1636.59,801.06 1640.31,800.66 1647.08,799.98 1657.57,799.00 1660.22,798.77 1668.06,798.11 1678.54,797.29 1682.30,797.01 1689.03,796.53 1699.52,795.84 1706.81,795.38 1710.01,795.19 1720.49,794.59 1730.98,794.02 1733.98,793.87 1741.47,793.49 1751.96,793.00 1762.44,792.53 1764.14,792.45 1772.93,792.08 1783.42,791.66 1793.91,791.26 1797.59,791.12 1804.40,790.87 1814.88,790.51 1825.37,790.16 1834.70,789.86 1835.86,789.82 1846.35,789.49 1856.83,789.18 1867.32,788.88 1875.86,788.64 1877.81,788.58 1888.30,788.30 1898.79,788.02 1909.27,787.75 1919.76,787.48 1921.53,787.44 1930.25,787.23 1940.74,786.97 1951.22,786.72 1961.71,786.48 1972.20,786.25"/>
</g>
<g id="legend">
<line x1="1772" y1="17.8" x2="1800.9" y2="17.8" stroke="#5B9BD5" stroke-width="2.1"/>
<text class="lg"><tspan x="1801.82" y="24.1" textLength="77.01" lengthAdjust="spacingAndGlyphs">Materials</tspan></text>
<line x1="1772" y1="50.8" x2="1800.9" y2="50.8" stroke="#548235" stroke-width="2.1"/>
<text class="lg"><tspan x="1802.54" y="56.7" textLength="107.77" lengthAdjust="spacingAndGlyphs">Consumables</tspan></text>
<line x1="1772" y1="83.5" x2="1800.9" y2="83.5" stroke="#A5A5A5" stroke-width="2.1"/>
<text class="lg"><tspan x="1801.91" y="89" textLength="45.78" lengthAdjust="spacingAndGlyphs">Labor</tspan></text>
<line x1="1772" y1="115.2" x2="1800.9" y2="115.2" stroke="#FFC000" stroke-width="2.1"/>
<text class="lg"><tspan x="1802.48" y="121.3" textLength="47.45" lengthAdjust="spacingAndGlyphs">Other</tspan></text>
<line x1="1772" y1="147.9" x2="1800.9" y2="147.9" stroke="#000000" stroke-width="2.1"/>
<text class="lg"><tspan x="1801.87" y="153.8" textLength="87.97" lengthAdjust="spacingAndGlyphs">Equipment</tspan> <tspan x="1894.12" y="153.8" textLength="103.29" lengthAdjust="spacingAndGlyphs">Contribution</tspan></text>
<line x1="1772" y1="180" x2="1800.9" y2="180" stroke="#FF0000" stroke-width="2.1"/>
<text class="lg"><tspan x="1802.14" y="186.1" textLength="34.69" lengthAdjust="spacingAndGlyphs">UBC</tspan></text>
</g>
</svg></body></html>
